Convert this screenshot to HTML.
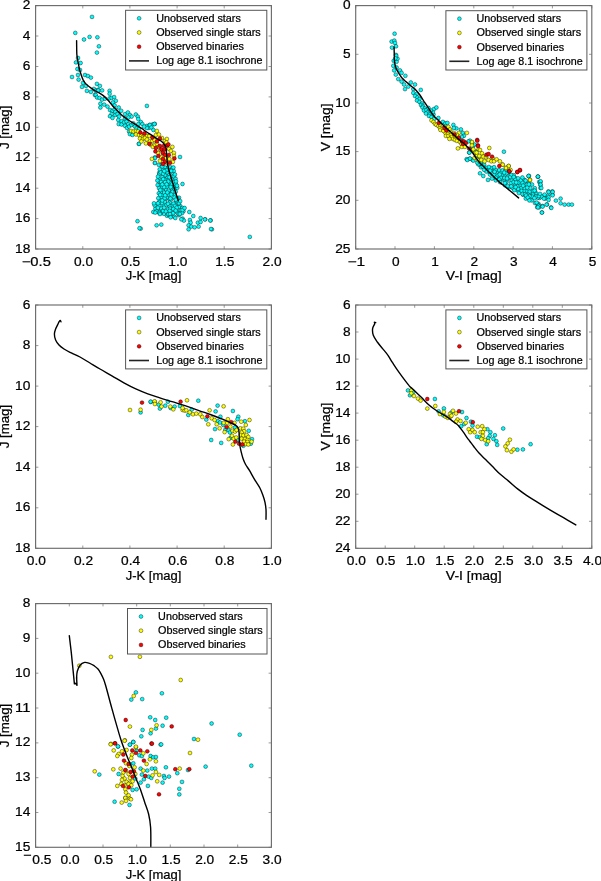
<!DOCTYPE html><html><head><meta charset="utf-8"><style>html,body{margin:0;padding:0;background:#fff;overflow:hidden}svg{display:block;will-change:transform}</style></head><body><svg width="601" height="881" viewBox="0 0 601 881" font-family='"Liberation Sans", sans-serif'><style>text{stroke:#000;stroke-width:0.22px}</style><defs><clipPath id="clip1"><rect x="35.6" y="5.6" width="235.8" height="243.4"/></clipPath><clipPath id="clip2"><rect x="355.7" y="5.6" width="236.1" height="243.4"/></clipPath><clipPath id="clip3"><rect x="35.6" y="305.0" width="235.8" height="243.3"/></clipPath><clipPath id="clip4"><rect x="355.7" y="305.0" width="236.1" height="243.3"/></clipPath><clipPath id="clip5"><rect x="35.6" y="603.6" width="235.8" height="243.7"/></clipPath></defs><rect width="601" height="881" fill="#fff"/><g stroke="#9a9a9a" stroke-width="1"><line x1="35.6" y1="249.0" x2="35.6" y2="246.2" /><line x1="35.6" y1="5.6" x2="35.6" y2="8.399999999999999" /><line x1="82.8" y1="249.0" x2="82.8" y2="246.2" /><line x1="82.8" y1="5.6" x2="82.8" y2="8.399999999999999" /><line x1="129.9" y1="249.0" x2="129.9" y2="246.2" /><line x1="129.9" y1="5.6" x2="129.9" y2="8.399999999999999" /><line x1="177.1" y1="249.0" x2="177.1" y2="246.2" /><line x1="177.1" y1="5.6" x2="177.1" y2="8.399999999999999" /><line x1="224.2" y1="249.0" x2="224.2" y2="246.2" /><line x1="224.2" y1="5.6" x2="224.2" y2="8.399999999999999" /><line x1="271.4" y1="249.0" x2="271.4" y2="246.2" /><line x1="271.4" y1="5.6" x2="271.4" y2="8.399999999999999" /><line x1="35.6" y1="5.6" x2="38.4" y2="5.6" /><line x1="271.4" y1="5.6" x2="268.59999999999997" y2="5.6" /><line x1="35.6" y1="36.0" x2="38.4" y2="36.0" /><line x1="271.4" y1="36.0" x2="268.59999999999997" y2="36.0" /><line x1="35.6" y1="66.5" x2="38.4" y2="66.5" /><line x1="271.4" y1="66.5" x2="268.59999999999997" y2="66.5" /><line x1="35.6" y1="96.9" x2="38.4" y2="96.9" /><line x1="271.4" y1="96.9" x2="268.59999999999997" y2="96.9" /><line x1="35.6" y1="127.3" x2="38.4" y2="127.3" /><line x1="271.4" y1="127.3" x2="268.59999999999997" y2="127.3" /><line x1="35.6" y1="157.7" x2="38.4" y2="157.7" /><line x1="271.4" y1="157.7" x2="268.59999999999997" y2="157.7" /><line x1="35.6" y1="188.2" x2="38.4" y2="188.2" /><line x1="271.4" y1="188.2" x2="268.59999999999997" y2="188.2" /><line x1="35.6" y1="218.6" x2="38.4" y2="218.6" /><line x1="271.4" y1="218.6" x2="268.59999999999997" y2="218.6" /><line x1="35.6" y1="249.0" x2="38.4" y2="249.0" /><line x1="271.4" y1="249.0" x2="268.59999999999997" y2="249.0" /></g><g clip-path="url(#clip1)"><g stroke="#000" stroke-opacity="0.75" stroke-width="0.55"><circle cx="92.0" cy="16.9" r="1.9" fill="#00ffff"/><circle cx="75.3" cy="32.9" r="1.9" fill="#00ffff"/><circle cx="84.0" cy="39.5" r="1.9" fill="#00ffff"/><circle cx="89.6" cy="36.9" r="1.9" fill="#00ffff"/><circle cx="97.4" cy="37.3" r="1.9" fill="#00ffff"/><circle cx="98.9" cy="46.3" r="1.9" fill="#00ffff"/><circle cx="78.0" cy="58.0" r="1.9" fill="#00ffff"/><circle cx="76.0" cy="62.4" r="1.9" fill="#00ffff"/><circle cx="80.6" cy="63.0" r="1.9" fill="#00ffff"/><circle cx="77.4" cy="69.0" r="1.9" fill="#00ffff"/><circle cx="80.0" cy="70.0" r="1.9" fill="#00ffff"/><circle cx="78.0" cy="75.0" r="1.9" fill="#00ffff"/><circle cx="72.0" cy="77.0" r="1.9" fill="#00ffff"/><circle cx="78.6" cy="79.6" r="1.9" fill="#00ffff"/><circle cx="85.0" cy="75.0" r="1.9" fill="#00ffff"/><circle cx="87.9" cy="76.0" r="1.9" fill="#00ffff"/><circle cx="90.9" cy="77.6" r="1.9" fill="#00ffff"/><circle cx="83.0" cy="82.9" r="1.9" fill="#00ffff"/><circle cx="82.0" cy="86.9" r="1.9" fill="#00ffff"/><circle cx="86.0" cy="85.9" r="1.9" fill="#00ffff"/><circle cx="86.9" cy="90.9" r="1.9" fill="#00ffff"/><circle cx="90.9" cy="91.9" r="1.9" fill="#00ffff"/><circle cx="93.9" cy="88.9" r="1.9" fill="#00ffff"/><circle cx="96.9" cy="83.9" r="1.9" fill="#00ffff"/><circle cx="99.9" cy="85.9" r="1.9" fill="#00ffff"/><circle cx="97.9" cy="89.9" r="1.9" fill="#00ffff"/><circle cx="94.9" cy="94.9" r="1.9" fill="#00ffff"/><circle cx="146.9" cy="125.9" r="1.9" fill="#00ffff"/><circle cx="149.8" cy="124.9" r="1.9" fill="#00ffff"/><circle cx="152.8" cy="124.3" r="1.9" fill="#00ffff"/><circle cx="154.8" cy="123.9" r="1.9" fill="#00ffff"/><circle cx="148.8" cy="127.9" r="1.9" fill="#00ffff"/><circle cx="138.9" cy="143.8" r="1.9" fill="#00ffff"/><circle cx="146.9" cy="105.9" r="1.9" fill="#00ffff"/><circle cx="96.9" cy="52.6" r="1.9" fill="#00ffff"/><circle cx="146.9" cy="128.0" r="1.9" fill="#00ffff"/><circle cx="149.9" cy="125.0" r="1.9" fill="#00ffff"/><circle cx="154.4" cy="124.0" r="1.9" fill="#00ffff"/><circle cx="151.4" cy="127.5" r="1.9" fill="#00ffff"/><circle cx="153.4" cy="130.0" r="1.9" fill="#00ffff"/><circle cx="139.0" cy="143.9" r="1.9" fill="#00ffff"/><circle cx="154.9" cy="157.4" r="1.9" fill="#00ffff"/><circle cx="154.9" cy="162.9" r="1.9" fill="#00ffff"/><circle cx="158.9" cy="164.9" r="1.9" fill="#00ffff"/><circle cx="178.5" cy="211.7" r="1.9" fill="#00ffff"/><circle cx="168.7" cy="184.6" r="1.9" fill="#00ffff"/><circle cx="167.9" cy="167.4" r="1.9" fill="#00ffff"/><circle cx="163.9" cy="205.4" r="1.9" fill="#00ffff"/><circle cx="155.4" cy="208.6" r="1.9" fill="#00ffff"/><circle cx="165.7" cy="179.2" r="1.9" fill="#00ffff"/><circle cx="170.2" cy="182.5" r="1.9" fill="#00ffff"/><circle cx="160.6" cy="184.5" r="1.9" fill="#00ffff"/><circle cx="171.5" cy="216.3" r="1.9" fill="#00ffff"/><circle cx="161.4" cy="197.3" r="1.9" fill="#00ffff"/><circle cx="164.9" cy="167.4" r="1.9" fill="#00ffff"/><circle cx="160.9" cy="208.3" r="1.9" fill="#00ffff"/><circle cx="170.3" cy="167.2" r="1.9" fill="#00ffff"/><circle cx="166.2" cy="189.7" r="1.9" fill="#00ffff"/><circle cx="169.5" cy="199.5" r="1.9" fill="#00ffff"/><circle cx="172.3" cy="205.6" r="1.9" fill="#00ffff"/><circle cx="161.8" cy="187.4" r="1.9" fill="#00ffff"/><circle cx="162.8" cy="190.9" r="1.9" fill="#00ffff"/><circle cx="171.8" cy="184.6" r="1.9" fill="#00ffff"/><circle cx="166.9" cy="215.7" r="1.9" fill="#00ffff"/><circle cx="163.9" cy="213.8" r="1.9" fill="#00ffff"/><circle cx="169.1" cy="215.2" r="1.9" fill="#00ffff"/><circle cx="171.1" cy="191.6" r="1.9" fill="#00ffff"/><circle cx="166.6" cy="197.6" r="1.9" fill="#00ffff"/><circle cx="169.4" cy="206.1" r="1.9" fill="#00ffff"/><circle cx="165.0" cy="199.7" r="1.9" fill="#00ffff"/><circle cx="177.0" cy="212.5" r="1.9" fill="#00ffff"/><circle cx="163.2" cy="170.0" r="1.9" fill="#00ffff"/><circle cx="172.8" cy="174.1" r="1.9" fill="#00ffff"/><circle cx="174.3" cy="182.1" r="1.9" fill="#00ffff"/><circle cx="157.6" cy="185.1" r="1.9" fill="#00ffff"/><circle cx="171.2" cy="199.6" r="1.9" fill="#00ffff"/><circle cx="162.0" cy="164.7" r="1.9" fill="#00ffff"/><circle cx="160.5" cy="200.5" r="1.9" fill="#00ffff"/><circle cx="160.9" cy="212.9" r="1.9" fill="#00ffff"/><circle cx="159.5" cy="179.5" r="1.9" fill="#00ffff"/><circle cx="178.8" cy="204.9" r="1.9" fill="#00ffff"/><circle cx="167.0" cy="186.5" r="1.9" fill="#00ffff"/><circle cx="159.3" cy="211.7" r="1.9" fill="#00ffff"/><circle cx="162.4" cy="194.8" r="1.9" fill="#00ffff"/><circle cx="172.0" cy="190.5" r="1.9" fill="#00ffff"/><circle cx="175.5" cy="178.6" r="1.9" fill="#00ffff"/><circle cx="168.6" cy="175.3" r="1.9" fill="#00ffff"/><circle cx="164.0" cy="192.6" r="1.9" fill="#00ffff"/><circle cx="167.3" cy="177.1" r="1.9" fill="#00ffff"/><circle cx="173.8" cy="176.1" r="1.9" fill="#00ffff"/><circle cx="162.2" cy="166.5" r="1.9" fill="#00ffff"/><circle cx="163.0" cy="211.0" r="1.9" fill="#00ffff"/><circle cx="174.2" cy="216.7" r="1.9" fill="#00ffff"/><circle cx="169.4" cy="194.9" r="1.9" fill="#00ffff"/><circle cx="174.1" cy="186.5" r="1.9" fill="#00ffff"/><circle cx="159.2" cy="172.8" r="1.9" fill="#00ffff"/><circle cx="158.9" cy="181.4" r="1.9" fill="#00ffff"/><circle cx="172.3" cy="168.5" r="1.9" fill="#00ffff"/><circle cx="168.7" cy="179.8" r="1.9" fill="#00ffff"/><circle cx="167.9" cy="209.1" r="1.9" fill="#00ffff"/><circle cx="176.0" cy="202.3" r="1.9" fill="#00ffff"/><circle cx="164.6" cy="198.2" r="1.9" fill="#00ffff"/><circle cx="164.6" cy="176.0" r="1.9" fill="#00ffff"/><circle cx="170.7" cy="187.0" r="1.9" fill="#00ffff"/><circle cx="169.7" cy="170.2" r="1.9" fill="#00ffff"/><circle cx="164.1" cy="207.6" r="1.9" fill="#00ffff"/><circle cx="161.1" cy="181.9" r="1.9" fill="#00ffff"/><circle cx="173.7" cy="170.9" r="1.9" fill="#00ffff"/><circle cx="164.9" cy="202.2" r="1.9" fill="#00ffff"/><circle cx="170.1" cy="208.6" r="1.9" fill="#00ffff"/><circle cx="162.5" cy="177.0" r="1.9" fill="#00ffff"/><circle cx="156.7" cy="205.4" r="1.9" fill="#00ffff"/><circle cx="158.3" cy="198.2" r="1.9" fill="#00ffff"/><circle cx="169.6" cy="202.6" r="1.9" fill="#00ffff"/><circle cx="159.1" cy="202.0" r="1.9" fill="#00ffff"/><circle cx="179.0" cy="197.7" r="1.9" fill="#00ffff"/><circle cx="165.1" cy="175.1" r="1.9" fill="#00ffff"/><circle cx="167.1" cy="172.3" r="1.9" fill="#00ffff"/><circle cx="174.7" cy="189.4" r="1.9" fill="#00ffff"/><circle cx="170.4" cy="198.5" r="1.9" fill="#00ffff"/><circle cx="166.5" cy="204.9" r="1.9" fill="#00ffff"/><circle cx="173.6" cy="203.6" r="1.9" fill="#00ffff"/><circle cx="177.3" cy="187.8" r="1.9" fill="#00ffff"/><circle cx="159.0" cy="188.1" r="1.9" fill="#00ffff"/><circle cx="156.6" cy="211.3" r="1.9" fill="#00ffff"/><circle cx="175.0" cy="205.9" r="1.9" fill="#00ffff"/><circle cx="160.6" cy="192.1" r="1.9" fill="#00ffff"/><circle cx="163.2" cy="179.2" r="1.9" fill="#00ffff"/><circle cx="159.2" cy="205.6" r="1.9" fill="#00ffff"/><circle cx="158.8" cy="193.3" r="1.9" fill="#00ffff"/><circle cx="180.2" cy="206.1" r="1.9" fill="#00ffff"/><circle cx="173.4" cy="167.5" r="1.9" fill="#00ffff"/><circle cx="159.4" cy="174.2" r="1.9" fill="#00ffff"/><circle cx="159.7" cy="169.4" r="1.9" fill="#00ffff"/><circle cx="175.8" cy="184.1" r="1.9" fill="#00ffff"/><circle cx="178.9" cy="207.2" r="1.9" fill="#00ffff"/><circle cx="171.6" cy="179.3" r="1.9" fill="#00ffff"/><circle cx="160.7" cy="172.4" r="1.9" fill="#00ffff"/><circle cx="183.5" cy="211.2" r="1.9" fill="#00ffff"/><circle cx="177.0" cy="185.7" r="1.9" fill="#00ffff"/><circle cx="180.9" cy="210.2" r="1.9" fill="#00ffff"/><circle cx="165.2" cy="195.3" r="1.9" fill="#00ffff"/><circle cx="172.6" cy="191.8" r="1.9" fill="#00ffff"/><circle cx="175.7" cy="191.7" r="1.9" fill="#00ffff"/><circle cx="168.0" cy="203.8" r="1.9" fill="#00ffff"/><circle cx="157.9" cy="207.7" r="1.9" fill="#00ffff"/><circle cx="177.0" cy="201.1" r="1.9" fill="#00ffff"/><circle cx="172.0" cy="211.2" r="1.9" fill="#00ffff"/><circle cx="166.4" cy="170.1" r="1.9" fill="#00ffff"/><circle cx="182.1" cy="213.1" r="1.9" fill="#00ffff"/><circle cx="174.9" cy="174.4" r="1.9" fill="#00ffff"/><circle cx="179.0" cy="203.2" r="1.9" fill="#00ffff"/><circle cx="168.2" cy="181.5" r="1.9" fill="#00ffff"/><circle cx="168.5" cy="190.7" r="1.9" fill="#00ffff"/><circle cx="160.3" cy="190.0" r="1.9" fill="#00ffff"/><circle cx="158.0" cy="176.6" r="1.9" fill="#00ffff"/><circle cx="169.6" cy="210.9" r="1.9" fill="#00ffff"/><circle cx="173.1" cy="213.2" r="1.9" fill="#00ffff"/><circle cx="165.9" cy="211.4" r="1.9" fill="#00ffff"/><circle cx="164.1" cy="187.1" r="1.9" fill="#00ffff"/><circle cx="174.7" cy="195.4" r="1.9" fill="#00ffff"/><circle cx="177.3" cy="198.4" r="1.9" fill="#00ffff"/><circle cx="180.2" cy="201.1" r="1.9" fill="#00ffff"/><circle cx="174.4" cy="197.5" r="1.9" fill="#00ffff"/><circle cx="176.0" cy="181.4" r="1.9" fill="#00ffff"/><circle cx="176.7" cy="207.7" r="1.9" fill="#00ffff"/><circle cx="163.2" cy="173.7" r="1.9" fill="#00ffff"/><circle cx="160.2" cy="194.9" r="1.9" fill="#00ffff"/><circle cx="182.5" cy="207.9" r="1.9" fill="#00ffff"/><circle cx="164.3" cy="171.1" r="1.9" fill="#00ffff"/><circle cx="168.2" cy="214.2" r="1.9" fill="#00ffff"/><circle cx="173.3" cy="208.9" r="1.9" fill="#00ffff"/><circle cx="162.0" cy="203.0" r="1.9" fill="#00ffff"/><circle cx="162.3" cy="184.4" r="1.9" fill="#00ffff"/><circle cx="165.2" cy="182.1" r="1.9" fill="#00ffff"/><circle cx="166.6" cy="184.3" r="1.9" fill="#00ffff"/><circle cx="178.8" cy="215.2" r="1.9" fill="#00ffff"/><circle cx="171.2" cy="170.9" r="1.9" fill="#00ffff"/><circle cx="175.8" cy="199.7" r="1.9" fill="#00ffff"/><circle cx="159.2" cy="212.8" r="1.9" fill="#00ffff"/><circle cx="175.7" cy="210.6" r="1.9" fill="#00ffff"/><circle cx="157.4" cy="180.5" r="1.9" fill="#00ffff"/><circle cx="170.0" cy="214.1" r="1.9" fill="#00ffff"/><circle cx="178.7" cy="214.0" r="1.9" fill="#00ffff"/><circle cx="162.2" cy="200.5" r="1.9" fill="#00ffff"/><circle cx="169.5" cy="177.2" r="1.9" fill="#00ffff"/><circle cx="167.3" cy="192.5" r="1.9" fill="#00ffff"/><circle cx="171.2" cy="194.5" r="1.9" fill="#00ffff"/><circle cx="180.0" cy="157.0" r="1.9" fill="#00ffff"/><circle cx="155.0" cy="163.0" r="1.9" fill="#00ffff"/><circle cx="155.0" cy="158.0" r="1.9" fill="#00ffff"/><circle cx="182.5" cy="184.0" r="1.9" fill="#00ffff"/><circle cx="170.6" cy="217.3" r="1.9" fill="#00ffff"/><circle cx="175.3" cy="218.0" r="1.9" fill="#00ffff"/><circle cx="160.0" cy="214.0" r="1.9" fill="#00ffff"/><circle cx="153.3" cy="212.0" r="1.9" fill="#00ffff"/><circle cx="155.3" cy="212.6" r="1.9" fill="#00ffff"/><circle cx="154.6" cy="205.3" r="1.9" fill="#00ffff"/><circle cx="154.0" cy="203.3" r="1.9" fill="#00ffff"/><circle cx="158.0" cy="203.3" r="1.9" fill="#00ffff"/><circle cx="179.9" cy="214.0" r="1.9" fill="#00ffff"/><circle cx="182.6" cy="210.0" r="1.9" fill="#00ffff"/><circle cx="184.6" cy="208.0" r="1.9" fill="#00ffff"/><circle cx="189.3" cy="212.0" r="1.9" fill="#00ffff"/><circle cx="193.3" cy="216.0" r="1.9" fill="#00ffff"/><circle cx="182.6" cy="218.6" r="1.9" fill="#00ffff"/><circle cx="183.9" cy="220.6" r="1.9" fill="#00ffff"/><circle cx="181.3" cy="219.3" r="1.9" fill="#00ffff"/><circle cx="189.9" cy="220.0" r="1.9" fill="#00ffff"/><circle cx="190.6" cy="222.6" r="1.9" fill="#00ffff"/><circle cx="188.6" cy="225.3" r="1.9" fill="#00ffff"/><circle cx="191.3" cy="226.6" r="1.9" fill="#00ffff"/><circle cx="194.6" cy="227.3" r="1.9" fill="#00ffff"/><circle cx="188.6" cy="229.3" r="1.9" fill="#00ffff"/><circle cx="198.6" cy="226.6" r="1.9" fill="#00ffff"/><circle cx="197.9" cy="222.6" r="1.9" fill="#00ffff"/><circle cx="200.6" cy="222.0" r="1.9" fill="#00ffff"/><circle cx="200.6" cy="218.0" r="1.9" fill="#00ffff"/><circle cx="205.2" cy="219.3" r="1.9" fill="#00ffff"/><circle cx="210.6" cy="220.4" r="1.9" fill="#00ffff"/><circle cx="211.9" cy="229.3" r="1.9" fill="#00ffff"/><circle cx="156.6" cy="225.3" r="1.9" fill="#00ffff"/><circle cx="161.3" cy="224.6" r="1.9" fill="#00ffff"/><circle cx="140.7" cy="228.6" r="1.9" fill="#00ffff"/><circle cx="137.5" cy="221.2" r="1.9" fill="#00ffff"/><circle cx="139.5" cy="228.2" r="1.9" fill="#00ffff"/><circle cx="249.8" cy="236.9" r="1.9" fill="#00ffff"/><circle cx="211.0" cy="229.0" r="1.9" fill="#00ffff"/><circle cx="210.3" cy="220.4" r="1.9" fill="#00ffff"/><circle cx="204.9" cy="219.4" r="1.9" fill="#00ffff"/><circle cx="95.8" cy="90.8" r="1.9" fill="#00ffff"/><circle cx="98.3" cy="90.4" r="1.9" fill="#00ffff"/><circle cx="102.1" cy="90.4" r="1.9" fill="#00ffff"/><circle cx="109.6" cy="90.8" r="1.9" fill="#00ffff"/><circle cx="109.6" cy="93.7" r="1.9" fill="#00ffff"/><circle cx="95.8" cy="95.0" r="1.9" fill="#00ffff"/><circle cx="97.1" cy="97.5" r="1.9" fill="#00ffff"/><circle cx="99.6" cy="97.9" r="1.9" fill="#00ffff"/><circle cx="102.1" cy="99.6" r="1.9" fill="#00ffff"/><circle cx="105.0" cy="98.7" r="1.9" fill="#00ffff"/><circle cx="109.6" cy="98.3" r="1.9" fill="#00ffff"/><circle cx="111.6" cy="97.9" r="1.9" fill="#00ffff"/><circle cx="114.1" cy="97.1" r="1.9" fill="#00ffff"/><circle cx="115.8" cy="100.8" r="1.9" fill="#00ffff"/><circle cx="112.9" cy="102.5" r="1.9" fill="#00ffff"/><circle cx="114.6" cy="105.4" r="1.9" fill="#00ffff"/><circle cx="100.4" cy="103.7" r="1.9" fill="#00ffff"/><circle cx="100.4" cy="107.5" r="1.9" fill="#00ffff"/><circle cx="104.2" cy="104.6" r="1.9" fill="#00ffff"/><circle cx="107.5" cy="106.6" r="1.9" fill="#00ffff"/><circle cx="110.0" cy="110.0" r="1.9" fill="#00ffff"/><circle cx="112.5" cy="110.8" r="1.9" fill="#00ffff"/><circle cx="114.6" cy="109.6" r="1.9" fill="#00ffff"/><circle cx="115.4" cy="112.0" r="1.9" fill="#00ffff"/><circle cx="118.7" cy="107.5" r="1.9" fill="#00ffff"/><circle cx="121.2" cy="110.8" r="1.9" fill="#00ffff"/><circle cx="111.6" cy="114.1" r="1.9" fill="#00ffff"/><circle cx="110.0" cy="116.2" r="1.9" fill="#00ffff"/><circle cx="112.5" cy="117.9" r="1.9" fill="#00ffff"/><circle cx="115.4" cy="115.0" r="1.9" fill="#00ffff"/><circle cx="117.5" cy="114.1" r="1.9" fill="#00ffff"/><circle cx="119.1" cy="116.6" r="1.9" fill="#00ffff"/><circle cx="118.3" cy="120.0" r="1.9" fill="#00ffff"/><circle cx="121.6" cy="121.2" r="1.9" fill="#00ffff"/><circle cx="118.7" cy="124.1" r="1.9" fill="#00ffff"/><circle cx="121.6" cy="124.5" r="1.9" fill="#00ffff"/><circle cx="125.0" cy="114.1" r="1.9" fill="#00ffff"/><circle cx="127.9" cy="112.5" r="1.9" fill="#00ffff"/><circle cx="129.9" cy="115.0" r="1.9" fill="#00ffff"/><circle cx="131.6" cy="116.6" r="1.9" fill="#00ffff"/><circle cx="128.3" cy="117.5" r="1.9" fill="#00ffff"/><circle cx="125.0" cy="118.3" r="1.9" fill="#00ffff"/><circle cx="124.1" cy="122.4" r="1.9" fill="#00ffff"/><circle cx="126.6" cy="121.6" r="1.9" fill="#00ffff"/><circle cx="128.3" cy="124.1" r="1.9" fill="#00ffff"/><circle cx="125.0" cy="125.8" r="1.9" fill="#00ffff"/><circle cx="127.0" cy="127.9" r="1.9" fill="#00ffff"/><circle cx="129.1" cy="126.6" r="1.9" fill="#00ffff"/><circle cx="131.6" cy="124.9" r="1.9" fill="#00ffff"/><circle cx="133.3" cy="123.3" r="1.9" fill="#00ffff"/><circle cx="135.8" cy="114.5" r="1.9" fill="#00ffff"/><circle cx="137.8" cy="116.6" r="1.9" fill="#00ffff"/><circle cx="138.3" cy="119.1" r="1.9" fill="#00ffff"/><circle cx="140.8" cy="122.0" r="1.9" fill="#00ffff"/><circle cx="142.4" cy="124.1" r="1.9" fill="#00ffff"/><circle cx="144.1" cy="126.6" r="1.9" fill="#00ffff"/><circle cx="134.9" cy="126.6" r="1.9" fill="#00ffff"/><circle cx="136.6" cy="128.3" r="1.9" fill="#00ffff"/><circle cx="139.1" cy="129.1" r="1.9" fill="#00ffff"/><circle cx="129.1" cy="131.6" r="1.9" fill="#00ffff"/><circle cx="129.9" cy="134.1" r="1.9" fill="#00ffff"/><circle cx="132.4" cy="134.9" r="1.9" fill="#00ffff"/><circle cx="138.3" cy="124.1" r="1.9" fill="#00ffff"/></g><g stroke="#000" stroke-opacity="0.75" stroke-width="0.55"><circle cx="131.0" cy="131.0" r="1.9" fill="#ffff00"/><circle cx="133.5" cy="131.5" r="1.9" fill="#ffff00"/><circle cx="136.0" cy="131.0" r="1.9" fill="#ffff00"/><circle cx="138.0" cy="131.5" r="1.9" fill="#ffff00"/><circle cx="136.0" cy="134.5" r="1.9" fill="#ffff00"/><circle cx="139.0" cy="135.0" r="1.9" fill="#ffff00"/><circle cx="141.4" cy="135.5" r="1.9" fill="#ffff00"/><circle cx="142.9" cy="137.0" r="1.9" fill="#ffff00"/><circle cx="144.9" cy="135.5" r="1.9" fill="#ffff00"/><circle cx="146.9" cy="136.0" r="1.9" fill="#ffff00"/><circle cx="149.4" cy="136.0" r="1.9" fill="#ffff00"/><circle cx="140.0" cy="138.5" r="1.9" fill="#ffff00"/><circle cx="142.9" cy="139.0" r="1.9" fill="#ffff00"/><circle cx="144.9" cy="138.0" r="1.9" fill="#ffff00"/><circle cx="146.9" cy="139.5" r="1.9" fill="#ffff00"/><circle cx="141.4" cy="141.4" r="1.9" fill="#ffff00"/><circle cx="145.9" cy="143.4" r="1.9" fill="#ffff00"/><circle cx="149.9" cy="141.4" r="1.9" fill="#ffff00"/><circle cx="152.4" cy="140.9" r="1.9" fill="#ffff00"/><circle cx="154.4" cy="140.0" r="1.9" fill="#ffff00"/><circle cx="155.9" cy="135.0" r="1.9" fill="#ffff00"/><circle cx="158.9" cy="134.5" r="1.9" fill="#ffff00"/><circle cx="156.9" cy="131.0" r="1.9" fill="#ffff00"/><circle cx="161.9" cy="138.0" r="1.9" fill="#ffff00"/><circle cx="164.9" cy="140.9" r="1.9" fill="#ffff00"/><circle cx="166.9" cy="139.0" r="1.9" fill="#ffff00"/><circle cx="166.4" cy="142.4" r="1.9" fill="#ffff00"/><circle cx="150.9" cy="144.9" r="1.9" fill="#ffff00"/><circle cx="152.9" cy="146.9" r="1.9" fill="#ffff00"/><circle cx="154.9" cy="144.9" r="1.9" fill="#ffff00"/><circle cx="156.9" cy="143.9" r="1.9" fill="#ffff00"/><circle cx="158.9" cy="146.9" r="1.9" fill="#ffff00"/><circle cx="160.4" cy="149.9" r="1.9" fill="#ffff00"/><circle cx="157.9" cy="152.9" r="1.9" fill="#ffff00"/><circle cx="160.9" cy="156.9" r="1.9" fill="#ffff00"/><circle cx="162.9" cy="152.9" r="1.9" fill="#ffff00"/><circle cx="151.9" cy="158.9" r="1.9" fill="#ffff00"/><circle cx="159.9" cy="160.9" r="1.9" fill="#ffff00"/><circle cx="168.9" cy="148.9" r="1.9" fill="#ffff00"/><circle cx="170.9" cy="150.9" r="1.9" fill="#ffff00"/><circle cx="172.4" cy="146.9" r="1.9" fill="#ffff00"/><circle cx="173.9" cy="152.9" r="1.9" fill="#ffff00"/><circle cx="169.4" cy="158.9" r="1.9" fill="#ffff00"/><circle cx="172.9" cy="161.9" r="1.9" fill="#ffff00"/><circle cx="173.9" cy="155.9" r="1.9" fill="#ffff00"/><circle cx="165.9" cy="157.9" r="1.9" fill="#ffff00"/><circle cx="166.9" cy="162.9" r="1.9" fill="#ffff00"/></g><g stroke="#000" stroke-opacity="0.75" stroke-width="0.55"><circle cx="140.4" cy="132.5" r="1.9" fill="#ff0000"/><circle cx="144.4" cy="133.5" r="1.9" fill="#ff0000"/><circle cx="152.4" cy="137.5" r="1.9" fill="#ff0000"/><circle cx="156.9" cy="141.4" r="1.9" fill="#ff0000"/><circle cx="159.9" cy="138.5" r="1.9" fill="#ff0000"/><circle cx="149.4" cy="143.9" r="1.9" fill="#ff0000"/><circle cx="155.9" cy="147.9" r="1.9" fill="#ff0000"/><circle cx="159.9" cy="145.9" r="1.9" fill="#ff0000"/><circle cx="161.4" cy="149.4" r="1.9" fill="#ff0000"/><circle cx="163.9" cy="145.9" r="1.9" fill="#ff0000"/><circle cx="155.4" cy="151.4" r="1.9" fill="#ff0000"/><circle cx="162.9" cy="152.9" r="1.9" fill="#ff0000"/><circle cx="164.9" cy="149.4" r="1.9" fill="#ff0000"/><circle cx="167.4" cy="145.4" r="1.9" fill="#ff0000"/><circle cx="168.4" cy="144.4" r="1.9" fill="#ff0000"/><circle cx="158.4" cy="155.9" r="1.9" fill="#ff0000"/><circle cx="164.9" cy="154.9" r="1.9" fill="#ff0000"/><circle cx="168.9" cy="154.9" r="1.9" fill="#ff0000"/><circle cx="162.9" cy="158.9" r="1.9" fill="#ff0000"/><circle cx="164.9" cy="161.9" r="1.9" fill="#ff0000"/><circle cx="162.9" cy="163.9" r="1.9" fill="#ff0000"/><circle cx="169.9" cy="162.9" r="1.9" fill="#ff0000"/><circle cx="174.4" cy="158.4" r="1.9" fill="#ff0000"/></g><path d="M76.6,40.6 C76.6,42.2 76.7,47.6 76.7,50.0 C76.8,52.4 76.7,53.0 76.9,55.0 C77.1,57.0 77.6,59.5 78.0,61.7 C78.4,63.9 78.8,66.2 79.3,68.3 C79.8,70.4 80.4,72.4 81.0,74.3 C81.6,76.2 82.2,78.0 83.0,79.6 C83.8,81.1 84.5,82.4 85.6,83.6 C86.7,84.8 88.1,85.9 89.6,87.0 C91.0,88.1 92.8,89.3 94.3,90.3 C95.8,91.2 97.2,91.8 98.7,92.7 C100.2,93.6 101.7,94.3 103.3,95.6 C104.9,96.9 106.8,98.8 108.3,100.5 C109.8,102.2 111.0,104.1 112.5,105.8 C114.0,107.5 115.8,109.1 117.5,110.8 C119.2,112.5 120.7,114.3 122.5,115.8 C124.3,117.3 126.2,118.6 128.3,120.0 C130.4,121.4 132.8,122.7 135.0,124.1 C137.2,125.5 139.8,127.1 141.6,128.3 C143.3,129.5 144.1,130.2 145.5,131.2 C146.9,132.2 148.6,133.3 150.0,134.2 C151.4,135.1 152.8,136.0 154.1,136.8 C155.4,137.7 156.8,138.6 158.0,139.3 C159.2,140.1 160.2,140.5 161.3,141.3 C162.4,142.1 163.5,143.1 164.3,144.3 C165.1,145.5 165.7,146.3 166.1,148.4 C166.5,150.5 166.5,154.1 166.8,156.8 C167.1,159.6 167.2,162.3 167.7,164.9 C168.1,167.5 168.8,169.5 169.5,172.2 C170.2,174.9 171.3,178.3 172.2,181.3 C173.1,184.3 174.0,187.4 174.9,190.3 C175.8,193.2 177.1,196.8 177.7,198.5 C178.2,200.2 178.1,200.2 178.2,200.5" fill="none" stroke="#000" stroke-width="1.4" stroke-linejoin="round" stroke-linecap="round"/></g><rect x="35.6" y="5.6" width="235.8" height="243.4" fill="none" stroke="#6c6c6c" stroke-width="1.15"/><g font-size="12.3" fill="#000"><text x="36.3" y="265.7" text-anchor="middle" textLength="29.1" lengthAdjust="spacingAndGlyphs">−0.5</text><text x="83.5" y="265.7" text-anchor="middle" textLength="19.1" lengthAdjust="spacingAndGlyphs">0.0</text><text x="130.6" y="265.7" text-anchor="middle" textLength="19.1" lengthAdjust="spacingAndGlyphs">0.5</text><text x="177.8" y="265.7" text-anchor="middle" textLength="19.1" lengthAdjust="spacingAndGlyphs">1.0</text><text x="224.9" y="265.7" text-anchor="middle" textLength="19.1" lengthAdjust="spacingAndGlyphs">1.5</text><text x="272.1" y="265.7" text-anchor="middle" textLength="19.1" lengthAdjust="spacingAndGlyphs">2.0</text><text x="30.4" y="9.1" text-anchor="end" textLength="7.6" lengthAdjust="spacingAndGlyphs">2</text><text x="30.4" y="39.5" text-anchor="end" textLength="7.6" lengthAdjust="spacingAndGlyphs">4</text><text x="30.4" y="70.0" text-anchor="end" textLength="7.6" lengthAdjust="spacingAndGlyphs">6</text><text x="30.4" y="100.4" text-anchor="end" textLength="7.6" lengthAdjust="spacingAndGlyphs">8</text><text x="30.4" y="130.8" text-anchor="end" textLength="15.3" lengthAdjust="spacingAndGlyphs">10</text><text x="30.4" y="161.2" text-anchor="end" textLength="15.3" lengthAdjust="spacingAndGlyphs">12</text><text x="30.4" y="191.7" text-anchor="end" textLength="15.3" lengthAdjust="spacingAndGlyphs">14</text><text x="30.4" y="222.1" text-anchor="end" textLength="15.3" lengthAdjust="spacingAndGlyphs">16</text><text x="30.4" y="252.5" text-anchor="end" textLength="15.3" lengthAdjust="spacingAndGlyphs">18</text></g><text x="153.5" y="280.3" text-anchor="middle" font-size="12.2" textLength="55.6" lengthAdjust="spacingAndGlyphs">J-K [mag]</text><text transform="translate(9.4,127.3) rotate(-90)" x="0" y="0" text-anchor="middle" font-size="12.2" textLength="43.4" lengthAdjust="spacingAndGlyphs">J [mag]</text><g stroke="#9a9a9a" stroke-width="1"><line x1="355.7" y1="249.0" x2="355.7" y2="246.2" /><line x1="355.7" y1="5.6" x2="355.7" y2="8.399999999999999" /><line x1="395.0" y1="249.0" x2="395.0" y2="246.2" /><line x1="395.0" y1="5.6" x2="395.0" y2="8.399999999999999" /><line x1="434.4" y1="249.0" x2="434.4" y2="246.2" /><line x1="434.4" y1="5.6" x2="434.4" y2="8.399999999999999" /><line x1="473.8" y1="249.0" x2="473.8" y2="246.2" /><line x1="473.8" y1="5.6" x2="473.8" y2="8.399999999999999" /><line x1="513.1" y1="249.0" x2="513.1" y2="246.2" /><line x1="513.1" y1="5.6" x2="513.1" y2="8.399999999999999" /><line x1="552.4" y1="249.0" x2="552.4" y2="246.2" /><line x1="552.4" y1="5.6" x2="552.4" y2="8.399999999999999" /><line x1="591.8" y1="249.0" x2="591.8" y2="246.2" /><line x1="591.8" y1="5.6" x2="591.8" y2="8.399999999999999" /><line x1="355.7" y1="5.6" x2="358.5" y2="5.6" /><line x1="591.8" y1="5.6" x2="589.0" y2="5.6" /><line x1="355.7" y1="54.3" x2="358.5" y2="54.3" /><line x1="591.8" y1="54.3" x2="589.0" y2="54.3" /><line x1="355.7" y1="103.0" x2="358.5" y2="103.0" /><line x1="591.8" y1="103.0" x2="589.0" y2="103.0" /><line x1="355.7" y1="151.6" x2="358.5" y2="151.6" /><line x1="591.8" y1="151.6" x2="589.0" y2="151.6" /><line x1="355.7" y1="200.3" x2="358.5" y2="200.3" /><line x1="591.8" y1="200.3" x2="589.0" y2="200.3" /><line x1="355.7" y1="249.0" x2="358.5" y2="249.0" /><line x1="591.8" y1="249.0" x2="589.0" y2="249.0" /></g><g clip-path="url(#clip2)"><g stroke="#000" stroke-opacity="0.75" stroke-width="0.55"><circle cx="394.6" cy="33.7" r="1.9" fill="#00ffff"/><circle cx="391.6" cy="41.6" r="1.9" fill="#00ffff"/><circle cx="394.3" cy="40.6" r="1.9" fill="#00ffff"/><circle cx="395.0" cy="43.0" r="1.9" fill="#00ffff"/><circle cx="396.0" cy="46.3" r="1.9" fill="#00ffff"/><circle cx="392.0" cy="47.6" r="1.9" fill="#00ffff"/><circle cx="395.9" cy="54.9" r="1.9" fill="#00ffff"/><circle cx="469.9" cy="140.6" r="1.9" fill="#00ffff"/><circle cx="471.9" cy="142.6" r="1.9" fill="#00ffff"/><circle cx="474.6" cy="144.6" r="1.9" fill="#00ffff"/><circle cx="472.6" cy="147.3" r="1.9" fill="#00ffff"/><circle cx="469.2" cy="152.6" r="1.9" fill="#00ffff"/><circle cx="466.6" cy="159.2" r="1.9" fill="#00ffff"/><circle cx="469.9" cy="158.6" r="1.9" fill="#00ffff"/><circle cx="472.6" cy="159.9" r="1.9" fill="#00ffff"/><circle cx="475.9" cy="151.3" r="1.9" fill="#00ffff"/><circle cx="478.6" cy="156.6" r="1.9" fill="#00ffff"/><circle cx="479.2" cy="164.6" r="1.9" fill="#00ffff"/><circle cx="400.0" cy="70.4" r="1.9" fill="#00ffff"/><circle cx="401.6" cy="72.9" r="1.9" fill="#00ffff"/><circle cx="405.4" cy="75.8" r="1.9" fill="#00ffff"/><circle cx="398.3" cy="79.1" r="1.9" fill="#00ffff"/><circle cx="401.6" cy="81.6" r="1.9" fill="#00ffff"/><circle cx="404.1" cy="84.5" r="1.9" fill="#00ffff"/><circle cx="405.0" cy="89.1" r="1.9" fill="#00ffff"/><circle cx="408.3" cy="86.6" r="1.9" fill="#00ffff"/><circle cx="410.8" cy="82.5" r="1.9" fill="#00ffff"/><circle cx="415.0" cy="84.5" r="1.9" fill="#00ffff"/><circle cx="413.3" cy="89.1" r="1.9" fill="#00ffff"/><circle cx="420.8" cy="89.9" r="1.9" fill="#00ffff"/><circle cx="413.3" cy="92.9" r="1.9" fill="#00ffff"/><circle cx="416.6" cy="94.1" r="1.9" fill="#00ffff"/><circle cx="393.7" cy="60.8" r="1.9" fill="#00ffff"/><circle cx="396.6" cy="61.7" r="1.9" fill="#00ffff"/><circle cx="393.3" cy="65.8" r="1.9" fill="#00ffff"/><circle cx="396.6" cy="67.5" r="1.9" fill="#00ffff"/><circle cx="394.2" cy="70.4" r="1.9" fill="#00ffff"/><circle cx="395.8" cy="74.6" r="1.9" fill="#00ffff"/><circle cx="397.5" cy="58.7" r="1.9" fill="#00ffff"/><circle cx="396.2" cy="55.8" r="1.9" fill="#00ffff"/><circle cx="395.4" cy="58.3" r="1.9" fill="#00ffff"/><circle cx="497.0" cy="178.1" r="1.9" fill="#00ffff"/><circle cx="502.7" cy="179.3" r="1.9" fill="#00ffff"/><circle cx="517.4" cy="179.8" r="1.9" fill="#00ffff"/><circle cx="524.4" cy="179.9" r="1.9" fill="#00ffff"/><circle cx="491.1" cy="171.7" r="1.9" fill="#00ffff"/><circle cx="486.2" cy="167.8" r="1.9" fill="#00ffff"/><circle cx="531.4" cy="198.5" r="1.9" fill="#00ffff"/><circle cx="528.2" cy="192.4" r="1.9" fill="#00ffff"/><circle cx="519.7" cy="185.7" r="1.9" fill="#00ffff"/><circle cx="531.6" cy="193.0" r="1.9" fill="#00ffff"/><circle cx="500.9" cy="177.7" r="1.9" fill="#00ffff"/><circle cx="539.6" cy="197.9" r="1.9" fill="#00ffff"/><circle cx="524.8" cy="182.1" r="1.9" fill="#00ffff"/><circle cx="504.7" cy="179.9" r="1.9" fill="#00ffff"/><circle cx="488.9" cy="171.8" r="1.9" fill="#00ffff"/><circle cx="488.0" cy="170.2" r="1.9" fill="#00ffff"/><circle cx="503.5" cy="175.0" r="1.9" fill="#00ffff"/><circle cx="513.7" cy="175.2" r="1.9" fill="#00ffff"/><circle cx="509.8" cy="187.1" r="1.9" fill="#00ffff"/><circle cx="505.3" cy="174.6" r="1.9" fill="#00ffff"/><circle cx="515.6" cy="178.2" r="1.9" fill="#00ffff"/><circle cx="486.3" cy="171.5" r="1.9" fill="#00ffff"/><circle cx="523.1" cy="194.8" r="1.9" fill="#00ffff"/><circle cx="537.8" cy="197.8" r="1.9" fill="#00ffff"/><circle cx="528.7" cy="183.1" r="1.9" fill="#00ffff"/><circle cx="525.6" cy="180.6" r="1.9" fill="#00ffff"/><circle cx="504.4" cy="177.9" r="1.9" fill="#00ffff"/><circle cx="521.4" cy="188.0" r="1.9" fill="#00ffff"/><circle cx="526.4" cy="191.2" r="1.9" fill="#00ffff"/><circle cx="533.1" cy="194.1" r="1.9" fill="#00ffff"/><circle cx="515.3" cy="179.5" r="1.9" fill="#00ffff"/><circle cx="482.1" cy="164.6" r="1.9" fill="#00ffff"/><circle cx="532.3" cy="196.7" r="1.9" fill="#00ffff"/><circle cx="524.0" cy="190.7" r="1.9" fill="#00ffff"/><circle cx="494.4" cy="174.7" r="1.9" fill="#00ffff"/><circle cx="521.3" cy="190.9" r="1.9" fill="#00ffff"/><circle cx="505.0" cy="185.3" r="1.9" fill="#00ffff"/><circle cx="480.6" cy="162.9" r="1.9" fill="#00ffff"/><circle cx="497.4" cy="171.5" r="1.9" fill="#00ffff"/><circle cx="518.5" cy="182.5" r="1.9" fill="#00ffff"/><circle cx="518.0" cy="190.7" r="1.9" fill="#00ffff"/><circle cx="532.0" cy="184.5" r="1.9" fill="#00ffff"/><circle cx="522.2" cy="182.5" r="1.9" fill="#00ffff"/><circle cx="544.2" cy="196.0" r="1.9" fill="#00ffff"/><circle cx="490.0" cy="174.6" r="1.9" fill="#00ffff"/><circle cx="481.0" cy="167.3" r="1.9" fill="#00ffff"/><circle cx="506.4" cy="182.0" r="1.9" fill="#00ffff"/><circle cx="500.9" cy="172.2" r="1.9" fill="#00ffff"/><circle cx="509.5" cy="175.0" r="1.9" fill="#00ffff"/><circle cx="531.7" cy="200.4" r="1.9" fill="#00ffff"/><circle cx="509.0" cy="172.2" r="1.9" fill="#00ffff"/><circle cx="497.4" cy="175.8" r="1.9" fill="#00ffff"/><circle cx="511.1" cy="174.9" r="1.9" fill="#00ffff"/><circle cx="514.9" cy="185.7" r="1.9" fill="#00ffff"/><circle cx="536.1" cy="193.3" r="1.9" fill="#00ffff"/><circle cx="524.8" cy="188.0" r="1.9" fill="#00ffff"/><circle cx="484.1" cy="164.6" r="1.9" fill="#00ffff"/><circle cx="525.8" cy="198.6" r="1.9" fill="#00ffff"/><circle cx="509.8" cy="177.4" r="1.9" fill="#00ffff"/><circle cx="502.4" cy="170.4" r="1.9" fill="#00ffff"/><circle cx="529.8" cy="191.5" r="1.9" fill="#00ffff"/><circle cx="536.1" cy="196.6" r="1.9" fill="#00ffff"/><circle cx="522.5" cy="194.0" r="1.9" fill="#00ffff"/><circle cx="482.8" cy="166.7" r="1.9" fill="#00ffff"/><circle cx="520.7" cy="180.2" r="1.9" fill="#00ffff"/><circle cx="541.6" cy="196.4" r="1.9" fill="#00ffff"/><circle cx="527.0" cy="184.7" r="1.9" fill="#00ffff"/><circle cx="511.7" cy="180.7" r="1.9" fill="#00ffff"/><circle cx="517.4" cy="186.3" r="1.9" fill="#00ffff"/><circle cx="512.5" cy="187.8" r="1.9" fill="#00ffff"/><circle cx="484.1" cy="169.8" r="1.9" fill="#00ffff"/><circle cx="534.8" cy="188.2" r="1.9" fill="#00ffff"/><circle cx="518.1" cy="188.9" r="1.9" fill="#00ffff"/><circle cx="505.8" cy="170.4" r="1.9" fill="#00ffff"/><circle cx="530.2" cy="188.1" r="1.9" fill="#00ffff"/><circle cx="527.2" cy="187.6" r="1.9" fill="#00ffff"/><circle cx="538.9" cy="196.1" r="1.9" fill="#00ffff"/><circle cx="518.1" cy="178.3" r="1.9" fill="#00ffff"/><circle cx="510.9" cy="183.1" r="1.9" fill="#00ffff"/><circle cx="493.8" cy="170.0" r="1.9" fill="#00ffff"/><circle cx="478.2" cy="164.2" r="1.9" fill="#00ffff"/><circle cx="495.8" cy="177.7" r="1.9" fill="#00ffff"/><circle cx="513.6" cy="182.1" r="1.9" fill="#00ffff"/><circle cx="491.1" cy="168.0" r="1.9" fill="#00ffff"/><circle cx="513.7" cy="177.0" r="1.9" fill="#00ffff"/><circle cx="535.0" cy="191.2" r="1.9" fill="#00ffff"/><circle cx="516.2" cy="182.5" r="1.9" fill="#00ffff"/><circle cx="533.0" cy="191.0" r="1.9" fill="#00ffff"/><circle cx="540.0" cy="193.9" r="1.9" fill="#00ffff"/><circle cx="499.0" cy="170.1" r="1.9" fill="#00ffff"/><circle cx="529.5" cy="196.2" r="1.9" fill="#00ffff"/><circle cx="528.9" cy="184.4" r="1.9" fill="#00ffff"/><circle cx="495.5" cy="169.9" r="1.9" fill="#00ffff"/><circle cx="477.2" cy="162.5" r="1.9" fill="#00ffff"/><circle cx="499.3" cy="179.5" r="1.9" fill="#00ffff"/><circle cx="504.9" cy="183.1" r="1.9" fill="#00ffff"/><circle cx="507.6" cy="186.2" r="1.9" fill="#00ffff"/><circle cx="507.6" cy="179.3" r="1.9" fill="#00ffff"/><circle cx="499.7" cy="174.5" r="1.9" fill="#00ffff"/><circle cx="494.1" cy="167.2" r="1.9" fill="#00ffff"/><circle cx="525.1" cy="194.1" r="1.9" fill="#00ffff"/><circle cx="518.9" cy="193.1" r="1.9" fill="#00ffff"/><circle cx="514.3" cy="190.2" r="1.9" fill="#00ffff"/><circle cx="500.1" cy="182.1" r="1.9" fill="#00ffff"/><circle cx="494.6" cy="171.8" r="1.9" fill="#00ffff"/><circle cx="495.8" cy="180.4" r="1.9" fill="#00ffff"/><circle cx="507.0" cy="178.4" r="1.9" fill="#00ffff"/><circle cx="506.5" cy="173.2" r="1.9" fill="#00ffff"/><circle cx="504.2" cy="172.6" r="1.9" fill="#00ffff"/><circle cx="488.9" cy="167.0" r="1.9" fill="#00ffff"/><circle cx="526.1" cy="195.5" r="1.9" fill="#00ffff"/><circle cx="527.8" cy="197.6" r="1.9" fill="#00ffff"/><circle cx="522.4" cy="177.5" r="1.9" fill="#00ffff"/><circle cx="490.1" cy="170.7" r="1.9" fill="#00ffff"/><circle cx="534.4" cy="198.1" r="1.9" fill="#00ffff"/><circle cx="547.9" cy="195.8" r="1.9" fill="#00ffff"/><circle cx="515.6" cy="187.1" r="1.9" fill="#00ffff"/><circle cx="523.1" cy="185.7" r="1.9" fill="#00ffff"/><circle cx="511.2" cy="186.3" r="1.9" fill="#00ffff"/><circle cx="545.3" cy="198.6" r="1.9" fill="#00ffff"/><circle cx="467.3" cy="160.0" r="1.9" fill="#00ffff"/><circle cx="470.0" cy="158.6" r="1.9" fill="#00ffff"/><circle cx="473.3" cy="160.6" r="1.9" fill="#00ffff"/><circle cx="469.3" cy="152.6" r="1.9" fill="#00ffff"/><circle cx="480.0" cy="173.3" r="1.9" fill="#00ffff"/><circle cx="483.3" cy="176.0" r="1.9" fill="#00ffff"/><circle cx="488.0" cy="179.9" r="1.9" fill="#00ffff"/><circle cx="492.0" cy="178.6" r="1.9" fill="#00ffff"/><circle cx="503.9" cy="151.7" r="1.9" fill="#00ffff"/><circle cx="528.6" cy="176.0" r="1.9" fill="#00ffff"/><circle cx="537.9" cy="176.6" r="1.9" fill="#00ffff"/><circle cx="539.2" cy="181.9" r="1.9" fill="#00ffff"/><circle cx="534.6" cy="190.6" r="1.9" fill="#00ffff"/><circle cx="538.6" cy="203.9" r="1.9" fill="#00ffff"/><circle cx="537.2" cy="207.2" r="1.9" fill="#00ffff"/><circle cx="529.0" cy="176.0" r="1.9" fill="#00ffff"/><circle cx="538.0" cy="176.8" r="1.9" fill="#00ffff"/><circle cx="540.4" cy="182.0" r="1.9" fill="#00ffff"/><circle cx="540.4" cy="185.0" r="1.9" fill="#00ffff"/><circle cx="540.4" cy="188.0" r="1.9" fill="#00ffff"/><circle cx="548.4" cy="191.4" r="1.9" fill="#00ffff"/><circle cx="552.4" cy="191.4" r="1.9" fill="#00ffff"/><circle cx="552.4" cy="194.4" r="1.9" fill="#00ffff"/><circle cx="535.0" cy="203.0" r="1.9" fill="#00ffff"/><circle cx="538.0" cy="205.0" r="1.9" fill="#00ffff"/><circle cx="539.0" cy="207.4" r="1.9" fill="#00ffff"/><circle cx="542.4" cy="206.0" r="1.9" fill="#00ffff"/><circle cx="547.0" cy="204.4" r="1.9" fill="#00ffff"/><circle cx="551.0" cy="207.4" r="1.9" fill="#00ffff"/><circle cx="542.0" cy="212.4" r="1.9" fill="#00ffff"/><circle cx="529.4" cy="200.4" r="1.9" fill="#00ffff"/><circle cx="528.6" cy="176.0" r="1.9" fill="#00ffff"/><circle cx="537.9" cy="176.6" r="1.9" fill="#00ffff"/><circle cx="540.6" cy="181.3" r="1.9" fill="#00ffff"/><circle cx="540.6" cy="184.6" r="1.9" fill="#00ffff"/><circle cx="541.3" cy="188.0" r="1.9" fill="#00ffff"/><circle cx="548.6" cy="192.0" r="1.9" fill="#00ffff"/><circle cx="552.6" cy="192.0" r="1.9" fill="#00ffff"/><circle cx="552.6" cy="195.3" r="1.9" fill="#00ffff"/><circle cx="544.6" cy="194.6" r="1.9" fill="#00ffff"/><circle cx="548.6" cy="197.3" r="1.9" fill="#00ffff"/><circle cx="548.6" cy="199.9" r="1.9" fill="#00ffff"/><circle cx="543.9" cy="198.6" r="1.9" fill="#00ffff"/><circle cx="536.6" cy="202.6" r="1.9" fill="#00ffff"/><circle cx="538.6" cy="205.9" r="1.9" fill="#00ffff"/><circle cx="542.6" cy="206.6" r="1.9" fill="#00ffff"/><circle cx="537.9" cy="207.3" r="1.9" fill="#00ffff"/><circle cx="546.6" cy="204.6" r="1.9" fill="#00ffff"/><circle cx="551.3" cy="207.9" r="1.9" fill="#00ffff"/><circle cx="541.9" cy="212.6" r="1.9" fill="#00ffff"/><circle cx="555.9" cy="200.6" r="1.9" fill="#00ffff"/><circle cx="560.6" cy="198.6" r="1.9" fill="#00ffff"/><circle cx="560.6" cy="203.3" r="1.9" fill="#00ffff"/><circle cx="564.6" cy="204.6" r="1.9" fill="#00ffff"/><circle cx="568.6" cy="204.6" r="1.9" fill="#00ffff"/><circle cx="571.9" cy="204.6" r="1.9" fill="#00ffff"/><circle cx="415.0" cy="96.0" r="1.9" fill="#00ffff"/><circle cx="417.5" cy="97.5" r="1.9" fill="#00ffff"/><circle cx="419.5" cy="99.0" r="1.9" fill="#00ffff"/><circle cx="417.0" cy="100.5" r="1.9" fill="#00ffff"/><circle cx="419.5" cy="102.0" r="1.9" fill="#00ffff"/><circle cx="422.0" cy="103.5" r="1.9" fill="#00ffff"/><circle cx="421.0" cy="105.0" r="1.9" fill="#00ffff"/><circle cx="423.0" cy="106.0" r="1.9" fill="#00ffff"/><circle cx="422.5" cy="107.5" r="1.9" fill="#00ffff"/><circle cx="425.0" cy="108.5" r="1.9" fill="#00ffff"/><circle cx="424.0" cy="110.5" r="1.9" fill="#00ffff"/><circle cx="426.5" cy="110.0" r="1.9" fill="#00ffff"/><circle cx="428.5" cy="108.0" r="1.9" fill="#00ffff"/><circle cx="427.5" cy="112.5" r="1.9" fill="#00ffff"/><circle cx="426.0" cy="113.5" r="1.9" fill="#00ffff"/><circle cx="429.5" cy="114.5" r="1.9" fill="#00ffff"/><circle cx="429.0" cy="116.0" r="1.9" fill="#00ffff"/><circle cx="431.5" cy="117.0" r="1.9" fill="#00ffff"/><circle cx="433.5" cy="114.5" r="1.9" fill="#00ffff"/><circle cx="433.0" cy="112.0" r="1.9" fill="#00ffff"/><circle cx="431.0" cy="110.5" r="1.9" fill="#00ffff"/><circle cx="434.0" cy="109.0" r="1.9" fill="#00ffff"/><circle cx="436.4" cy="107.5" r="1.9" fill="#00ffff"/><circle cx="438.4" cy="118.0" r="1.9" fill="#00ffff"/><circle cx="434.0" cy="119.0" r="1.9" fill="#00ffff"/><circle cx="442.9" cy="121.9" r="1.9" fill="#00ffff"/><circle cx="445.4" cy="123.4" r="1.9" fill="#00ffff"/><circle cx="447.4" cy="122.9" r="1.9" fill="#00ffff"/><circle cx="453.4" cy="124.9" r="1.9" fill="#00ffff"/><circle cx="456.4" cy="128.4" r="1.9" fill="#00ffff"/><circle cx="453.9" cy="127.9" r="1.9" fill="#00ffff"/><circle cx="460.9" cy="129.4" r="1.9" fill="#00ffff"/><circle cx="462.9" cy="132.9" r="1.9" fill="#00ffff"/><circle cx="463.9" cy="135.9" r="1.9" fill="#00ffff"/><circle cx="461.9" cy="136.9" r="1.9" fill="#00ffff"/><circle cx="468.4" cy="141.4" r="1.9" fill="#00ffff"/></g><g stroke="#000" stroke-opacity="0.75" stroke-width="0.55"><circle cx="471.9" cy="145.3" r="1.9" fill="#ffff00"/><circle cx="472.6" cy="150.6" r="1.9" fill="#ffff00"/><circle cx="475.2" cy="152.6" r="1.9" fill="#ffff00"/><circle cx="477.2" cy="155.2" r="1.9" fill="#ffff00"/><circle cx="478.6" cy="149.3" r="1.9" fill="#ffff00"/><circle cx="474.6" cy="157.9" r="1.9" fill="#ffff00"/><circle cx="478.6" cy="160.6" r="1.9" fill="#ffff00"/><circle cx="472.0" cy="142.0" r="1.9" fill="#ffff00"/><circle cx="473.3" cy="149.3" r="1.9" fill="#ffff00"/><circle cx="476.6" cy="152.6" r="1.9" fill="#ffff00"/><circle cx="480.0" cy="150.0" r="1.9" fill="#ffff00"/><circle cx="482.0" cy="153.3" r="1.9" fill="#ffff00"/><circle cx="479.3" cy="156.0" r="1.9" fill="#ffff00"/><circle cx="483.3" cy="156.6" r="1.9" fill="#ffff00"/><circle cx="486.0" cy="157.3" r="1.9" fill="#ffff00"/><circle cx="481.3" cy="160.0" r="1.9" fill="#ffff00"/><circle cx="484.6" cy="161.3" r="1.9" fill="#ffff00"/><circle cx="489.3" cy="148.0" r="1.9" fill="#ffff00"/><circle cx="488.6" cy="160.0" r="1.9" fill="#ffff00"/><circle cx="492.6" cy="158.0" r="1.9" fill="#ffff00"/><circle cx="491.3" cy="161.3" r="1.9" fill="#ffff00"/><circle cx="494.0" cy="161.3" r="1.9" fill="#ffff00"/><circle cx="496.6" cy="159.3" r="1.9" fill="#ffff00"/><circle cx="499.9" cy="161.3" r="1.9" fill="#ffff00"/><circle cx="502.6" cy="164.6" r="1.9" fill="#ffff00"/><circle cx="505.9" cy="168.0" r="1.9" fill="#ffff00"/><circle cx="508.6" cy="166.0" r="1.9" fill="#ffff00"/><circle cx="510.6" cy="170.0" r="1.9" fill="#ffff00"/><circle cx="529.9" cy="179.9" r="1.9" fill="#ffff00"/><circle cx="486.6" cy="155.3" r="1.9" fill="#ffff00"/><circle cx="502.7" cy="164.7" r="1.9" fill="#ffff00"/><circle cx="508.7" cy="166.0" r="1.9" fill="#ffff00"/><circle cx="506.0" cy="168.0" r="1.9" fill="#ffff00"/><circle cx="530.0" cy="180.0" r="1.9" fill="#ffff00"/><circle cx="431.5" cy="120.4" r="1.9" fill="#ffff00"/><circle cx="433.5" cy="121.9" r="1.9" fill="#ffff00"/><circle cx="435.0" cy="123.9" r="1.9" fill="#ffff00"/><circle cx="436.4" cy="124.9" r="1.9" fill="#ffff00"/><circle cx="438.4" cy="125.9" r="1.9" fill="#ffff00"/><circle cx="439.9" cy="127.9" r="1.9" fill="#ffff00"/><circle cx="440.4" cy="129.9" r="1.9" fill="#ffff00"/><circle cx="442.9" cy="128.4" r="1.9" fill="#ffff00"/><circle cx="444.9" cy="126.9" r="1.9" fill="#ffff00"/><circle cx="448.4" cy="126.9" r="1.9" fill="#ffff00"/><circle cx="449.9" cy="129.4" r="1.9" fill="#ffff00"/><circle cx="445.4" cy="132.9" r="1.9" fill="#ffff00"/><circle cx="447.9" cy="133.9" r="1.9" fill="#ffff00"/><circle cx="445.9" cy="135.9" r="1.9" fill="#ffff00"/><circle cx="448.4" cy="135.9" r="1.9" fill="#ffff00"/><circle cx="450.9" cy="134.9" r="1.9" fill="#ffff00"/><circle cx="451.9" cy="136.9" r="1.9" fill="#ffff00"/><circle cx="453.9" cy="132.9" r="1.9" fill="#ffff00"/><circle cx="452.9" cy="138.9" r="1.9" fill="#ffff00"/><circle cx="454.9" cy="139.9" r="1.9" fill="#ffff00"/><circle cx="456.9" cy="140.9" r="1.9" fill="#ffff00"/><circle cx="457.9" cy="136.9" r="1.9" fill="#ffff00"/><circle cx="458.9" cy="132.9" r="1.9" fill="#ffff00"/><circle cx="459.9" cy="141.9" r="1.9" fill="#ffff00"/><circle cx="461.4" cy="143.9" r="1.9" fill="#ffff00"/><circle cx="457.9" cy="148.4" r="1.9" fill="#ffff00"/><circle cx="461.9" cy="146.9" r="1.9" fill="#ffff00"/><circle cx="464.9" cy="146.9" r="1.9" fill="#ffff00"/><circle cx="466.9" cy="132.9" r="1.9" fill="#ffff00"/><circle cx="456.9" cy="134.9" r="1.9" fill="#ffff00"/><circle cx="443.4" cy="130.9" r="1.9" fill="#ffff00"/><circle cx="439.9" cy="124.4" r="1.9" fill="#ffff00"/><circle cx="450.9" cy="131.9" r="1.9" fill="#ffff00"/><circle cx="454.9" cy="135.9" r="1.9" fill="#ffff00"/><circle cx="449.4" cy="138.9" r="1.9" fill="#ffff00"/></g><g stroke="#000" stroke-opacity="0.75" stroke-width="0.55"><circle cx="469.2" cy="148.6" r="1.9" fill="#ff0000"/><circle cx="477.2" cy="139.9" r="1.9" fill="#ff0000"/><circle cx="477.9" cy="145.3" r="1.9" fill="#ff0000"/><circle cx="477.3" cy="140.7" r="1.9" fill="#ff0000"/><circle cx="478.0" cy="146.0" r="1.9" fill="#ff0000"/><circle cx="486.6" cy="154.6" r="1.9" fill="#ff0000"/><circle cx="488.6" cy="154.0" r="1.9" fill="#ff0000"/><circle cx="492.0" cy="156.6" r="1.9" fill="#ff0000"/><circle cx="499.3" cy="166.0" r="1.9" fill="#ff0000"/><circle cx="509.3" cy="171.3" r="1.9" fill="#ff0000"/><circle cx="517.3" cy="172.0" r="1.9" fill="#ff0000"/><circle cx="519.9" cy="170.4" r="1.9" fill="#ff0000"/><circle cx="509.3" cy="171.3" r="1.9" fill="#ff0000"/><circle cx="517.3" cy="172.0" r="1.9" fill="#ff0000"/><circle cx="520.0" cy="170.0" r="1.9" fill="#ff0000"/><circle cx="438.9" cy="122.9" r="1.9" fill="#ff0000"/><circle cx="444.4" cy="127.9" r="1.9" fill="#ff0000"/><circle cx="446.4" cy="130.4" r="1.9" fill="#ff0000"/><circle cx="454.4" cy="134.4" r="1.9" fill="#ff0000"/><circle cx="458.9" cy="137.9" r="1.9" fill="#ff0000"/><circle cx="461.9" cy="140.9" r="1.9" fill="#ff0000"/><circle cx="463.9" cy="141.4" r="1.9" fill="#ff0000"/><circle cx="465.9" cy="142.9" r="1.9" fill="#ff0000"/><circle cx="462.9" cy="143.9" r="1.9" fill="#ff0000"/></g><path d="M394.1,47.0 C394.1,48.3 394.2,52.5 394.3,55.0 C394.4,57.5 394.2,59.6 394.5,61.7 C394.8,63.8 395.2,65.7 395.8,67.5 C396.4,69.3 397.3,70.8 398.3,72.5 C399.3,74.2 400.4,76.0 401.6,77.5 C402.9,79.0 404.3,80.2 405.8,81.6 C407.3,83.0 409.1,84.4 410.8,85.8 C412.5,87.2 414.3,88.5 415.8,90.0 C417.3,91.5 418.5,93.1 419.9,95.0 C421.3,96.9 422.8,99.5 424.1,101.6 C425.5,103.6 426.5,105.0 428.0,107.3 C429.5,109.6 431.3,112.8 433.3,115.3 C435.3,117.8 437.8,119.8 440.0,122.0 C442.2,124.2 444.9,127.0 446.6,128.6 C448.4,130.2 448.9,130.4 450.5,131.8 C452.1,133.2 454.1,135.3 456.0,137.0 C457.9,138.7 460.3,140.6 462.0,142.0 C463.7,143.4 464.8,144.4 466.0,145.5 C467.2,146.6 468.1,147.6 469.0,148.5 C469.9,149.4 470.8,150.3 471.5,151.2 C472.2,152.1 472.8,152.9 473.5,154.0 C474.2,155.1 474.9,156.5 476.0,158.0 C477.1,159.5 478.3,161.2 480.0,163.0 C481.7,164.8 483.8,166.8 486.0,169.0 C488.2,171.2 490.7,173.7 493.0,176.0 C495.3,178.3 497.7,180.6 500.0,182.6 C502.3,184.6 503.5,185.3 506.6,187.9 C509.7,190.5 516.6,196.2 518.6,197.9" fill="none" stroke="#000" stroke-width="1.4" stroke-linejoin="round" stroke-linecap="round"/></g><rect x="355.7" y="5.6" width="236.1" height="243.4" fill="none" stroke="#6c6c6c" stroke-width="1.15"/><g font-size="12.3" fill="#000"><text x="356.4" y="265.7" text-anchor="middle" textLength="17.7" lengthAdjust="spacingAndGlyphs">−1</text><text x="395.7" y="265.7" text-anchor="middle" textLength="7.6" lengthAdjust="spacingAndGlyphs">0</text><text x="435.1" y="265.7" text-anchor="middle" textLength="7.6" lengthAdjust="spacingAndGlyphs">1</text><text x="474.4" y="265.7" text-anchor="middle" textLength="7.6" lengthAdjust="spacingAndGlyphs">2</text><text x="513.8" y="265.7" text-anchor="middle" textLength="7.6" lengthAdjust="spacingAndGlyphs">3</text><text x="553.1" y="265.7" text-anchor="middle" textLength="7.6" lengthAdjust="spacingAndGlyphs">4</text><text x="592.5" y="265.7" text-anchor="middle" textLength="7.6" lengthAdjust="spacingAndGlyphs">5</text><text x="350.5" y="9.1" text-anchor="end" textLength="7.6" lengthAdjust="spacingAndGlyphs">0</text><text x="350.5" y="57.8" text-anchor="end" textLength="7.6" lengthAdjust="spacingAndGlyphs">5</text><text x="350.5" y="106.5" text-anchor="end" textLength="15.3" lengthAdjust="spacingAndGlyphs">10</text><text x="350.5" y="155.1" text-anchor="end" textLength="15.3" lengthAdjust="spacingAndGlyphs">15</text><text x="350.5" y="203.8" text-anchor="end" textLength="15.3" lengthAdjust="spacingAndGlyphs">20</text><text x="350.5" y="252.5" text-anchor="end" textLength="15.3" lengthAdjust="spacingAndGlyphs">25</text></g><text x="473.8" y="280.3" text-anchor="middle" font-size="12.2" textLength="55.9" lengthAdjust="spacingAndGlyphs">V-I [mag]</text><text transform="translate(329.5,127.3) rotate(-90)" x="0" y="0" text-anchor="middle" font-size="12.2" textLength="48.0" lengthAdjust="spacingAndGlyphs">V [mag]</text><g stroke="#9a9a9a" stroke-width="1"><line x1="35.6" y1="548.3" x2="35.6" y2="545.5" /><line x1="35.6" y1="305.0" x2="35.6" y2="307.8" /><line x1="82.8" y1="548.3" x2="82.8" y2="545.5" /><line x1="82.8" y1="305.0" x2="82.8" y2="307.8" /><line x1="129.9" y1="548.3" x2="129.9" y2="545.5" /><line x1="129.9" y1="305.0" x2="129.9" y2="307.8" /><line x1="177.1" y1="548.3" x2="177.1" y2="545.5" /><line x1="177.1" y1="305.0" x2="177.1" y2="307.8" /><line x1="224.2" y1="548.3" x2="224.2" y2="545.5" /><line x1="224.2" y1="305.0" x2="224.2" y2="307.8" /><line x1="271.4" y1="548.3" x2="271.4" y2="545.5" /><line x1="271.4" y1="305.0" x2="271.4" y2="307.8" /><line x1="35.6" y1="305.0" x2="38.4" y2="305.0" /><line x1="271.4" y1="305.0" x2="268.59999999999997" y2="305.0" /><line x1="35.6" y1="345.6" x2="38.4" y2="345.6" /><line x1="271.4" y1="345.6" x2="268.59999999999997" y2="345.6" /><line x1="35.6" y1="386.1" x2="38.4" y2="386.1" /><line x1="271.4" y1="386.1" x2="268.59999999999997" y2="386.1" /><line x1="35.6" y1="426.6" x2="38.4" y2="426.6" /><line x1="271.4" y1="426.6" x2="268.59999999999997" y2="426.6" /><line x1="35.6" y1="467.2" x2="38.4" y2="467.2" /><line x1="271.4" y1="467.2" x2="268.59999999999997" y2="467.2" /><line x1="35.6" y1="507.8" x2="38.4" y2="507.8" /><line x1="271.4" y1="507.8" x2="268.59999999999997" y2="507.8" /><line x1="35.6" y1="548.3" x2="38.4" y2="548.3" /><line x1="271.4" y1="548.3" x2="268.59999999999997" y2="548.3" /></g><g clip-path="url(#clip3)"><g stroke="#000" stroke-opacity="0.75" stroke-width="0.55"><circle cx="150.8" cy="401.9" r="1.9" fill="#00ffff"/><circle cx="150.6" cy="401.7" r="1.9" fill="#00ffff"/><circle cx="140.6" cy="412.4" r="1.9" fill="#00ffff"/><circle cx="158.6" cy="404.6" r="1.9" fill="#00ffff"/><circle cx="159.9" cy="408.6" r="1.9" fill="#00ffff"/><circle cx="165.3" cy="405.7" r="1.9" fill="#00ffff"/><circle cx="167.9" cy="401.7" r="1.9" fill="#00ffff"/><circle cx="174.6" cy="406.6" r="1.9" fill="#00ffff"/><circle cx="170.6" cy="408.0" r="1.9" fill="#00ffff"/><circle cx="179.9" cy="406.0" r="1.9" fill="#00ffff"/><circle cx="198.3" cy="400.7" r="1.9" fill="#00ffff"/><circle cx="217.6" cy="405.6" r="1.9" fill="#00ffff"/><circle cx="215.6" cy="411.4" r="1.9" fill="#00ffff"/><circle cx="232.9" cy="411.0" r="1.9" fill="#00ffff"/><circle cx="188.3" cy="415.0" r="1.9" fill="#00ffff"/><circle cx="191.7" cy="409.6" r="1.9" fill="#00ffff"/><circle cx="206.3" cy="419.6" r="1.9" fill="#00ffff"/><circle cx="220.4" cy="416.7" r="1.9" fill="#00ffff"/><circle cx="217.9" cy="421.2" r="1.9" fill="#00ffff"/><circle cx="220.0" cy="422.5" r="1.9" fill="#00ffff"/><circle cx="223.3" cy="425.0" r="1.9" fill="#00ffff"/><circle cx="215.0" cy="429.1" r="1.9" fill="#00ffff"/><circle cx="225.4" cy="429.6" r="1.9" fill="#00ffff"/><circle cx="228.7" cy="430.4" r="1.9" fill="#00ffff"/><circle cx="230.0" cy="432.5" r="1.9" fill="#00ffff"/><circle cx="235.0" cy="427.5" r="1.9" fill="#00ffff"/><circle cx="238.3" cy="416.7" r="1.9" fill="#00ffff"/><circle cx="237.5" cy="419.2" r="1.9" fill="#00ffff"/><circle cx="244.9" cy="421.2" r="1.9" fill="#00ffff"/><circle cx="248.7" cy="430.8" r="1.9" fill="#00ffff"/><circle cx="252.0" cy="439.1" r="1.9" fill="#00ffff"/><circle cx="250.8" cy="443.7" r="1.9" fill="#00ffff"/><circle cx="243.3" cy="445.8" r="1.9" fill="#00ffff"/><circle cx="211.2" cy="440.0" r="1.9" fill="#00ffff"/><circle cx="221.2" cy="442.9" r="1.9" fill="#00ffff"/><circle cx="237.5" cy="440.0" r="1.9" fill="#00ffff"/><circle cx="230.4" cy="437.9" r="1.9" fill="#00ffff"/></g><g stroke="#000" stroke-opacity="0.75" stroke-width="0.55"><circle cx="154.8" cy="401.9" r="1.9" fill="#ffff00"/><circle cx="130.0" cy="410.0" r="1.9" fill="#ffff00"/><circle cx="140.6" cy="409.7" r="1.9" fill="#ffff00"/><circle cx="154.6" cy="401.3" r="1.9" fill="#ffff00"/><circle cx="154.9" cy="404.0" r="1.9" fill="#ffff00"/><circle cx="160.6" cy="402.3" r="1.9" fill="#ffff00"/><circle cx="161.5" cy="406.6" r="1.9" fill="#ffff00"/><circle cx="170.3" cy="406.6" r="1.9" fill="#ffff00"/><circle cx="173.3" cy="409.3" r="1.9" fill="#ffff00"/><circle cx="182.6" cy="410.0" r="1.9" fill="#ffff00"/><circle cx="184.6" cy="410.6" r="1.9" fill="#ffff00"/><circle cx="182.6" cy="408.0" r="1.9" fill="#ffff00"/><circle cx="187.0" cy="400.3" r="1.9" fill="#ffff00"/><circle cx="186.3" cy="410.3" r="1.9" fill="#ffff00"/><circle cx="189.7" cy="412.3" r="1.9" fill="#ffff00"/><circle cx="193.0" cy="414.3" r="1.9" fill="#ffff00"/><circle cx="196.3" cy="413.6" r="1.9" fill="#ffff00"/><circle cx="200.3" cy="414.3" r="1.9" fill="#ffff00"/><circle cx="202.3" cy="417.0" r="1.9" fill="#ffff00"/><circle cx="209.6" cy="410.3" r="1.9" fill="#ffff00"/><circle cx="208.3" cy="424.3" r="1.9" fill="#ffff00"/><circle cx="223.6" cy="406.3" r="1.9" fill="#ffff00"/><circle cx="211.7" cy="418.3" r="1.9" fill="#ffff00"/><circle cx="214.6" cy="420.0" r="1.9" fill="#ffff00"/><circle cx="216.7" cy="424.2" r="1.9" fill="#ffff00"/><circle cx="219.6" cy="428.3" r="1.9" fill="#ffff00"/><circle cx="223.7" cy="422.9" r="1.9" fill="#ffff00"/><circle cx="227.1" cy="422.9" r="1.9" fill="#ffff00"/><circle cx="227.9" cy="419.2" r="1.9" fill="#ffff00"/><circle cx="230.4" cy="426.6" r="1.9" fill="#ffff00"/><circle cx="234.5" cy="422.9" r="1.9" fill="#ffff00"/><circle cx="224.6" cy="432.1" r="1.9" fill="#ffff00"/><circle cx="232.5" cy="430.8" r="1.9" fill="#ffff00"/><circle cx="235.0" cy="431.6" r="1.9" fill="#ffff00"/><circle cx="236.6" cy="430.0" r="1.9" fill="#ffff00"/><circle cx="232.0" cy="435.8" r="1.9" fill="#ffff00"/><circle cx="228.7" cy="439.1" r="1.9" fill="#ffff00"/><circle cx="233.7" cy="438.7" r="1.9" fill="#ffff00"/><circle cx="236.2" cy="437.5" r="1.9" fill="#ffff00"/><circle cx="232.9" cy="444.5" r="1.9" fill="#ffff00"/><circle cx="240.4" cy="428.3" r="1.9" fill="#ffff00"/><circle cx="243.3" cy="428.7" r="1.9" fill="#ffff00"/><circle cx="244.1" cy="431.2" r="1.9" fill="#ffff00"/><circle cx="241.6" cy="432.5" r="1.9" fill="#ffff00"/><circle cx="241.2" cy="421.7" r="1.9" fill="#ffff00"/><circle cx="245.8" cy="425.0" r="1.9" fill="#ffff00"/><circle cx="249.5" cy="420.0" r="1.9" fill="#ffff00"/><circle cx="240.8" cy="435.0" r="1.9" fill="#ffff00"/><circle cx="243.3" cy="435.4" r="1.9" fill="#ffff00"/><circle cx="246.6" cy="435.0" r="1.9" fill="#ffff00"/><circle cx="248.3" cy="437.0" r="1.9" fill="#ffff00"/><circle cx="241.6" cy="438.7" r="1.9" fill="#ffff00"/><circle cx="244.9" cy="439.1" r="1.9" fill="#ffff00"/><circle cx="247.4" cy="440.0" r="1.9" fill="#ffff00"/><circle cx="244.1" cy="441.6" r="1.9" fill="#ffff00"/><circle cx="247.4" cy="442.0" r="1.9" fill="#ffff00"/><circle cx="251.6" cy="441.6" r="1.9" fill="#ffff00"/><circle cx="245.8" cy="444.1" r="1.9" fill="#ffff00"/><circle cx="248.3" cy="444.5" r="1.9" fill="#ffff00"/></g><g stroke="#000" stroke-opacity="0.75" stroke-width="0.55"><circle cx="142.0" cy="402.6" r="1.9" fill="#ff0000"/><circle cx="180.6" cy="401.7" r="1.9" fill="#ff0000"/><circle cx="207.4" cy="416.3" r="1.9" fill="#ff0000"/><circle cx="226.6" cy="427.1" r="1.9" fill="#ff0000"/><circle cx="231.2" cy="422.1" r="1.9" fill="#ff0000"/><circle cx="235.4" cy="441.6" r="1.9" fill="#ff0000"/><circle cx="239.1" cy="443.7" r="1.9" fill="#ff0000"/><circle cx="242.4" cy="444.5" r="1.9" fill="#ff0000"/></g><path d="M61.0,321.9 C60.9,321.6 60.5,320.5 60.2,320.4 C59.9,320.3 59.7,320.8 59.3,321.4 C58.9,322.0 58.6,322.7 58.0,324.0 C57.4,325.3 56.2,327.3 55.6,329.0 C55.0,330.7 54.4,332.2 54.4,334.0 C54.4,335.8 54.8,338.2 55.6,340.0 C56.4,341.8 57.6,343.5 59.0,345.0 C60.4,346.5 62.2,347.8 64.0,349.0 C65.8,350.2 67.3,351.0 70.0,352.3 C72.7,353.6 76.7,355.2 80.0,357.0 C83.3,358.8 86.7,361.0 90.0,363.0 C93.3,365.0 96.3,366.9 100.0,369.0 C103.7,371.1 107.9,373.6 111.9,375.9 C115.9,378.2 119.9,380.7 123.9,382.9 C127.9,385.1 131.8,387.1 135.8,388.9 C139.8,390.7 143.8,392.4 147.8,393.9 C151.8,395.4 155.8,396.6 159.8,397.9 C163.8,399.2 167.8,400.3 172.0,401.6 C176.2,402.9 180.6,404.2 185.0,405.6 C189.4,407.1 193.9,408.7 198.3,410.3 C202.7,411.9 207.6,413.5 211.6,415.0 C215.6,416.5 219.3,417.9 222.5,419.2 C225.7,420.5 228.6,421.9 230.8,422.9 C233.0,423.9 234.6,424.5 235.8,425.4 C237.1,426.3 237.8,427.0 238.3,428.3 C238.9,429.6 238.9,430.9 239.1,433.3 C239.3,435.7 239.2,439.5 239.5,442.5 C239.8,445.5 240.4,448.6 241.0,451.2 C241.6,453.8 242.2,456.2 243.0,458.4 C243.8,460.6 244.5,462.4 245.6,464.5 C246.7,466.6 248.1,468.1 249.6,470.7 C251.1,473.3 253.1,477.0 254.8,479.9 C256.5,482.8 258.5,485.4 259.9,488.0 C261.2,490.6 262.0,492.8 262.9,495.2 C263.8,497.6 264.5,500.0 265.0,502.4 C265.5,504.8 265.8,506.7 266.0,509.5 C266.2,512.3 266.0,517.6 266.0,519.2" fill="none" stroke="#000" stroke-width="1.4" stroke-linejoin="round" stroke-linecap="round"/></g><rect x="35.6" y="305.0" width="235.8" height="243.3" fill="none" stroke="#6c6c6c" stroke-width="1.15"/><g font-size="12.3" fill="#000"><text x="36.3" y="565.0" text-anchor="middle" textLength="19.1" lengthAdjust="spacingAndGlyphs">0.0</text><text x="83.5" y="565.0" text-anchor="middle" textLength="19.1" lengthAdjust="spacingAndGlyphs">0.2</text><text x="130.6" y="565.0" text-anchor="middle" textLength="19.1" lengthAdjust="spacingAndGlyphs">0.4</text><text x="177.8" y="565.0" text-anchor="middle" textLength="19.1" lengthAdjust="spacingAndGlyphs">0.6</text><text x="224.9" y="565.0" text-anchor="middle" textLength="19.1" lengthAdjust="spacingAndGlyphs">0.8</text><text x="272.1" y="565.0" text-anchor="middle" textLength="19.1" lengthAdjust="spacingAndGlyphs">1.0</text><text x="30.4" y="308.5" text-anchor="end" textLength="7.6" lengthAdjust="spacingAndGlyphs">6</text><text x="30.4" y="349.1" text-anchor="end" textLength="7.6" lengthAdjust="spacingAndGlyphs">8</text><text x="30.4" y="389.6" text-anchor="end" textLength="15.3" lengthAdjust="spacingAndGlyphs">10</text><text x="30.4" y="430.1" text-anchor="end" textLength="15.3" lengthAdjust="spacingAndGlyphs">12</text><text x="30.4" y="470.7" text-anchor="end" textLength="15.3" lengthAdjust="spacingAndGlyphs">14</text><text x="30.4" y="511.2" text-anchor="end" textLength="15.3" lengthAdjust="spacingAndGlyphs">16</text><text x="30.4" y="551.8" text-anchor="end" textLength="15.3" lengthAdjust="spacingAndGlyphs">18</text></g><text x="153.5" y="579.6" text-anchor="middle" font-size="12.2" textLength="55.6" lengthAdjust="spacingAndGlyphs">J-K [mag]</text><text transform="translate(9.4,426.6) rotate(-90)" x="0" y="0" text-anchor="middle" font-size="12.2" textLength="43.4" lengthAdjust="spacingAndGlyphs">J [mag]</text><g stroke="#9a9a9a" stroke-width="1"><line x1="355.7" y1="548.3" x2="355.7" y2="545.5" /><line x1="355.7" y1="305.0" x2="355.7" y2="307.8" /><line x1="385.2" y1="548.3" x2="385.2" y2="545.5" /><line x1="385.2" y1="305.0" x2="385.2" y2="307.8" /><line x1="414.7" y1="548.3" x2="414.7" y2="545.5" /><line x1="414.7" y1="305.0" x2="414.7" y2="307.8" /><line x1="444.2" y1="548.3" x2="444.2" y2="545.5" /><line x1="444.2" y1="305.0" x2="444.2" y2="307.8" /><line x1="473.8" y1="548.3" x2="473.8" y2="545.5" /><line x1="473.8" y1="305.0" x2="473.8" y2="307.8" /><line x1="503.3" y1="548.3" x2="503.3" y2="545.5" /><line x1="503.3" y1="305.0" x2="503.3" y2="307.8" /><line x1="532.8" y1="548.3" x2="532.8" y2="545.5" /><line x1="532.8" y1="305.0" x2="532.8" y2="307.8" /><line x1="562.3" y1="548.3" x2="562.3" y2="545.5" /><line x1="562.3" y1="305.0" x2="562.3" y2="307.8" /><line x1="591.8" y1="548.3" x2="591.8" y2="545.5" /><line x1="591.8" y1="305.0" x2="591.8" y2="307.8" /><line x1="355.7" y1="305.0" x2="358.5" y2="305.0" /><line x1="591.8" y1="305.0" x2="589.0" y2="305.0" /><line x1="355.7" y1="332.0" x2="358.5" y2="332.0" /><line x1="591.8" y1="332.0" x2="589.0" y2="332.0" /><line x1="355.7" y1="359.1" x2="358.5" y2="359.1" /><line x1="591.8" y1="359.1" x2="589.0" y2="359.1" /><line x1="355.7" y1="386.1" x2="358.5" y2="386.1" /><line x1="591.8" y1="386.1" x2="589.0" y2="386.1" /><line x1="355.7" y1="413.1" x2="358.5" y2="413.1" /><line x1="591.8" y1="413.1" x2="589.0" y2="413.1" /><line x1="355.7" y1="440.2" x2="358.5" y2="440.2" /><line x1="591.8" y1="440.2" x2="589.0" y2="440.2" /><line x1="355.7" y1="467.2" x2="358.5" y2="467.2" /><line x1="591.8" y1="467.2" x2="589.0" y2="467.2" /><line x1="355.7" y1="494.2" x2="358.5" y2="494.2" /><line x1="591.8" y1="494.2" x2="589.0" y2="494.2" /><line x1="355.7" y1="521.3" x2="358.5" y2="521.3" /><line x1="591.8" y1="521.3" x2="589.0" y2="521.3" /><line x1="355.7" y1="548.3" x2="358.5" y2="548.3" /><line x1="591.8" y1="548.3" x2="589.0" y2="548.3" /></g><g clip-path="url(#clip4)"><g stroke="#000" stroke-opacity="0.75" stroke-width="0.55"><circle cx="408.0" cy="390.4" r="1.9" fill="#00ffff"/><circle cx="413.3" cy="392.0" r="1.9" fill="#00ffff"/><circle cx="410.0" cy="395.3" r="1.9" fill="#00ffff"/><circle cx="434.9" cy="399.0" r="1.9" fill="#00ffff"/><circle cx="443.9" cy="408.4" r="1.9" fill="#00ffff"/><circle cx="438.6" cy="411.3" r="1.9" fill="#00ffff"/><circle cx="443.3" cy="415.3" r="1.9" fill="#00ffff"/><circle cx="451.3" cy="412.6" r="1.9" fill="#00ffff"/><circle cx="462.0" cy="412.0" r="1.9" fill="#00ffff"/><circle cx="466.5" cy="418.0" r="1.9" fill="#00ffff"/><circle cx="471.0" cy="421.7" r="1.9" fill="#00ffff"/><circle cx="472.5" cy="425.5" r="1.9" fill="#00ffff"/><circle cx="461.2" cy="426.2" r="1.9" fill="#00ffff"/><circle cx="464.2" cy="424.0" r="1.9" fill="#00ffff"/><circle cx="477.0" cy="436.7" r="1.9" fill="#00ffff"/><circle cx="479.9" cy="437.4" r="1.9" fill="#00ffff"/><circle cx="486.7" cy="444.2" r="1.9" fill="#00ffff"/><circle cx="487.4" cy="429.2" r="1.9" fill="#00ffff"/><circle cx="490.4" cy="432.2" r="1.9" fill="#00ffff"/><circle cx="489.7" cy="435.9" r="1.9" fill="#00ffff"/><circle cx="488.2" cy="438.2" r="1.9" fill="#00ffff"/><circle cx="494.9" cy="435.2" r="1.9" fill="#00ffff"/><circle cx="493.4" cy="438.9" r="1.9" fill="#00ffff"/><circle cx="496.4" cy="441.2" r="1.9" fill="#00ffff"/><circle cx="497.2" cy="444.9" r="1.9" fill="#00ffff"/><circle cx="503.2" cy="428.5" r="1.9" fill="#00ffff"/><circle cx="517.4" cy="449.7" r="1.9" fill="#00ffff"/><circle cx="522.9" cy="449.4" r="1.9" fill="#00ffff"/><circle cx="530.6" cy="444.2" r="1.9" fill="#00ffff"/></g><g stroke="#000" stroke-opacity="0.75" stroke-width="0.55"><circle cx="411.3" cy="390.4" r="1.9" fill="#ffff00"/><circle cx="411.3" cy="393.3" r="1.9" fill="#ffff00"/><circle cx="414.0" cy="396.0" r="1.9" fill="#ffff00"/><circle cx="418.0" cy="398.6" r="1.9" fill="#ffff00"/><circle cx="420.6" cy="400.6" r="1.9" fill="#ffff00"/><circle cx="435.3" cy="406.0" r="1.9" fill="#ffff00"/><circle cx="427.3" cy="408.6" r="1.9" fill="#ffff00"/><circle cx="439.9" cy="414.0" r="1.9" fill="#ffff00"/><circle cx="443.9" cy="412.0" r="1.9" fill="#ffff00"/><circle cx="449.9" cy="414.0" r="1.9" fill="#ffff00"/><circle cx="450.6" cy="416.6" r="1.9" fill="#ffff00"/><circle cx="445.3" cy="416.6" r="1.9" fill="#ffff00"/><circle cx="447.9" cy="417.9" r="1.9" fill="#ffff00"/><circle cx="453.0" cy="410.8" r="1.9" fill="#ffff00"/><circle cx="456.0" cy="413.5" r="1.9" fill="#ffff00"/><circle cx="451.5" cy="415.7" r="1.9" fill="#ffff00"/><circle cx="457.5" cy="419.5" r="1.9" fill="#ffff00"/><circle cx="460.5" cy="421.0" r="1.9" fill="#ffff00"/><circle cx="465.7" cy="422.8" r="1.9" fill="#ffff00"/><circle cx="456.0" cy="421.7" r="1.9" fill="#ffff00"/><circle cx="468.7" cy="429.2" r="1.9" fill="#ffff00"/><circle cx="470.2" cy="432.2" r="1.9" fill="#ffff00"/><circle cx="472.5" cy="429.9" r="1.9" fill="#ffff00"/><circle cx="474.7" cy="432.2" r="1.9" fill="#ffff00"/><circle cx="477.7" cy="426.7" r="1.9" fill="#ffff00"/><circle cx="482.2" cy="426.2" r="1.9" fill="#ffff00"/><circle cx="484.4" cy="429.2" r="1.9" fill="#ffff00"/><circle cx="480.7" cy="432.2" r="1.9" fill="#ffff00"/><circle cx="482.9" cy="432.2" r="1.9" fill="#ffff00"/><circle cx="482.9" cy="435.9" r="1.9" fill="#ffff00"/><circle cx="481.4" cy="438.9" r="1.9" fill="#ffff00"/><circle cx="485.2" cy="440.1" r="1.9" fill="#ffff00"/><circle cx="488.2" cy="441.2" r="1.9" fill="#ffff00"/><circle cx="509.9" cy="439.7" r="1.9" fill="#ffff00"/><circle cx="507.7" cy="443.4" r="1.9" fill="#ffff00"/><circle cx="505.4" cy="446.4" r="1.9" fill="#ffff00"/><circle cx="506.9" cy="450.2" r="1.9" fill="#ffff00"/><circle cx="511.4" cy="451.7" r="1.9" fill="#ffff00"/><circle cx="513.6" cy="449.4" r="1.9" fill="#ffff00"/></g><g stroke="#000" stroke-opacity="0.75" stroke-width="0.55"><circle cx="427.3" cy="399.0" r="1.9" fill="#ff0000"/><circle cx="459.0" cy="411.2" r="1.9" fill="#ff0000"/><circle cx="472.8" cy="422.2" r="1.9" fill="#ff0000"/></g><path d="M375.7,322.6 C375.5,322.5 374.6,322.0 374.4,322.2 C374.2,322.4 374.9,322.9 374.6,324.0 C374.3,325.1 372.8,326.7 372.6,328.6 C372.4,330.5 372.5,333.1 373.3,335.3 C374.1,337.5 375.8,339.8 377.3,342.0 C378.9,344.2 380.8,346.4 382.6,348.6 C384.4,350.8 386.4,353.1 388.0,355.3 C389.6,357.5 390.4,359.5 392.0,361.9 C393.6,364.3 395.3,367.0 397.3,369.9 C399.3,372.8 402.0,376.5 404.0,379.2 C406.0,381.9 407.8,384.2 409.3,385.9 C410.9,387.6 411.3,387.7 413.3,389.6 C415.3,391.5 418.6,394.7 421.3,397.3 C424.0,399.9 426.4,402.9 429.3,405.3 C432.2,407.8 435.7,410.1 438.6,412.0 C441.5,413.9 443.9,414.8 446.6,416.6 C449.3,418.4 452.7,421.1 454.6,422.6 C456.6,424.1 456.9,424.0 458.3,425.5 C459.7,427.0 461.4,429.6 463.0,431.7 C464.6,433.8 466.4,436.7 467.6,438.3 C468.8,439.9 469.0,440.2 470.0,441.5 C471.0,442.8 472.1,444.4 473.6,446.3 C475.1,448.2 477.0,450.8 479.0,453.0 C481.0,455.2 483.4,457.4 485.6,459.6 C487.8,461.8 489.9,463.9 492.3,466.3 C494.8,468.8 497.6,471.9 500.3,474.3 C503.0,476.7 505.4,478.5 508.3,480.9 C511.2,483.3 514.5,486.4 517.6,488.9 C520.7,491.3 524.0,493.7 526.9,495.6 C529.8,497.6 531.1,498.2 534.9,500.6 C538.7,503.0 545.1,507.0 549.9,509.9 C554.7,512.8 559.6,515.4 563.9,517.9 C568.2,520.4 573.8,523.7 575.8,524.9" fill="none" stroke="#000" stroke-width="1.4" stroke-linejoin="round" stroke-linecap="round"/></g><rect x="355.7" y="305.0" width="236.1" height="243.3" fill="none" stroke="#6c6c6c" stroke-width="1.15"/><g font-size="12.3" fill="#000"><text x="356.4" y="565.0" text-anchor="middle" textLength="19.1" lengthAdjust="spacingAndGlyphs">0.0</text><text x="385.9" y="565.0" text-anchor="middle" textLength="19.1" lengthAdjust="spacingAndGlyphs">0.5</text><text x="415.4" y="565.0" text-anchor="middle" textLength="19.1" lengthAdjust="spacingAndGlyphs">1.0</text><text x="444.9" y="565.0" text-anchor="middle" textLength="19.1" lengthAdjust="spacingAndGlyphs">1.5</text><text x="474.4" y="565.0" text-anchor="middle" textLength="19.1" lengthAdjust="spacingAndGlyphs">2.0</text><text x="504.0" y="565.0" text-anchor="middle" textLength="19.1" lengthAdjust="spacingAndGlyphs">2.5</text><text x="533.5" y="565.0" text-anchor="middle" textLength="19.1" lengthAdjust="spacingAndGlyphs">3.0</text><text x="563.0" y="565.0" text-anchor="middle" textLength="19.1" lengthAdjust="spacingAndGlyphs">3.5</text><text x="592.5" y="565.0" text-anchor="middle" textLength="19.1" lengthAdjust="spacingAndGlyphs">4.0</text><text x="350.5" y="308.5" text-anchor="end" textLength="7.6" lengthAdjust="spacingAndGlyphs">6</text><text x="350.5" y="335.5" text-anchor="end" textLength="7.6" lengthAdjust="spacingAndGlyphs">8</text><text x="350.5" y="362.6" text-anchor="end" textLength="15.3" lengthAdjust="spacingAndGlyphs">10</text><text x="350.5" y="389.6" text-anchor="end" textLength="15.3" lengthAdjust="spacingAndGlyphs">12</text><text x="350.5" y="416.6" text-anchor="end" textLength="15.3" lengthAdjust="spacingAndGlyphs">14</text><text x="350.5" y="443.7" text-anchor="end" textLength="15.3" lengthAdjust="spacingAndGlyphs">16</text><text x="350.5" y="470.7" text-anchor="end" textLength="15.3" lengthAdjust="spacingAndGlyphs">18</text><text x="350.5" y="497.7" text-anchor="end" textLength="15.3" lengthAdjust="spacingAndGlyphs">20</text><text x="350.5" y="524.8" text-anchor="end" textLength="15.3" lengthAdjust="spacingAndGlyphs">22</text><text x="350.5" y="551.8" text-anchor="end" textLength="15.3" lengthAdjust="spacingAndGlyphs">24</text></g><text x="473.8" y="579.6" text-anchor="middle" font-size="12.2" textLength="55.9" lengthAdjust="spacingAndGlyphs">V-I [mag]</text><text transform="translate(329.5,426.6) rotate(-90)" x="0" y="0" text-anchor="middle" font-size="12.2" textLength="48.0" lengthAdjust="spacingAndGlyphs">V [mag]</text><g stroke="#9a9a9a" stroke-width="1"><line x1="35.6" y1="847.3" x2="35.6" y2="844.5" /><line x1="35.6" y1="603.6" x2="35.6" y2="606.4" /><line x1="69.3" y1="847.3" x2="69.3" y2="844.5" /><line x1="69.3" y1="603.6" x2="69.3" y2="606.4" /><line x1="103.0" y1="847.3" x2="103.0" y2="844.5" /><line x1="103.0" y1="603.6" x2="103.0" y2="606.4" /><line x1="136.7" y1="847.3" x2="136.7" y2="844.5" /><line x1="136.7" y1="603.6" x2="136.7" y2="606.4" /><line x1="170.3" y1="847.3" x2="170.3" y2="844.5" /><line x1="170.3" y1="603.6" x2="170.3" y2="606.4" /><line x1="204.0" y1="847.3" x2="204.0" y2="844.5" /><line x1="204.0" y1="603.6" x2="204.0" y2="606.4" /><line x1="237.7" y1="847.3" x2="237.7" y2="844.5" /><line x1="237.7" y1="603.6" x2="237.7" y2="606.4" /><line x1="271.4" y1="847.3" x2="271.4" y2="844.5" /><line x1="271.4" y1="603.6" x2="271.4" y2="606.4" /><line x1="35.6" y1="603.6" x2="38.4" y2="603.6" /><line x1="271.4" y1="603.6" x2="268.59999999999997" y2="603.6" /><line x1="35.6" y1="638.4" x2="38.4" y2="638.4" /><line x1="271.4" y1="638.4" x2="268.59999999999997" y2="638.4" /><line x1="35.6" y1="673.2" x2="38.4" y2="673.2" /><line x1="271.4" y1="673.2" x2="268.59999999999997" y2="673.2" /><line x1="35.6" y1="708.0" x2="38.4" y2="708.0" /><line x1="271.4" y1="708.0" x2="268.59999999999997" y2="708.0" /><line x1="35.6" y1="742.9" x2="38.4" y2="742.9" /><line x1="271.4" y1="742.9" x2="268.59999999999997" y2="742.9" /><line x1="35.6" y1="777.7" x2="38.4" y2="777.7" /><line x1="271.4" y1="777.7" x2="268.59999999999997" y2="777.7" /><line x1="35.6" y1="812.5" x2="38.4" y2="812.5" /><line x1="271.4" y1="812.5" x2="268.59999999999997" y2="812.5" /><line x1="35.6" y1="847.3" x2="38.4" y2="847.3" /><line x1="271.4" y1="847.3" x2="268.59999999999997" y2="847.3" /></g><g clip-path="url(#clip5)"><g stroke="#000" stroke-opacity="0.75" stroke-width="0.55"><circle cx="135.9" cy="692.4" r="1.9" fill="#00ffff"/><circle cx="131.3" cy="699.6" r="1.9" fill="#00ffff"/><circle cx="142.2" cy="699.1" r="1.9" fill="#00ffff"/><circle cx="161.9" cy="693.3" r="1.9" fill="#00ffff"/><circle cx="150.2" cy="717.3" r="1.9" fill="#00ffff"/><circle cx="155.2" cy="720.0" r="1.9" fill="#00ffff"/><circle cx="166.2" cy="717.7" r="1.9" fill="#00ffff"/><circle cx="162.6" cy="725.7" r="1.9" fill="#00ffff"/><circle cx="155.9" cy="728.6" r="1.9" fill="#00ffff"/><circle cx="150.6" cy="733.3" r="1.9" fill="#00ffff"/><circle cx="142.6" cy="729.9" r="1.9" fill="#00ffff"/><circle cx="141.3" cy="736.3" r="1.9" fill="#00ffff"/><circle cx="133.3" cy="741.9" r="1.9" fill="#00ffff"/><circle cx="129.9" cy="744.6" r="1.9" fill="#00ffff"/><circle cx="118.0" cy="746.6" r="1.9" fill="#00ffff"/><circle cx="160.6" cy="744.6" r="1.9" fill="#00ffff"/><circle cx="118.0" cy="746.4" r="1.9" fill="#00ffff"/><circle cx="129.9" cy="744.7" r="1.9" fill="#00ffff"/><circle cx="133.3" cy="742.0" r="1.9" fill="#00ffff"/><circle cx="161.2" cy="744.4" r="1.9" fill="#00ffff"/><circle cx="136.6" cy="750.7" r="1.9" fill="#00ffff"/><circle cx="139.3" cy="755.3" r="1.9" fill="#00ffff"/><circle cx="141.9" cy="756.0" r="1.9" fill="#00ffff"/><circle cx="150.6" cy="756.0" r="1.9" fill="#00ffff"/><circle cx="153.2" cy="757.3" r="1.9" fill="#00ffff"/><circle cx="155.9" cy="757.0" r="1.9" fill="#00ffff"/><circle cx="133.3" cy="763.3" r="1.9" fill="#00ffff"/><circle cx="129.9" cy="764.0" r="1.9" fill="#00ffff"/><circle cx="140.6" cy="768.6" r="1.9" fill="#00ffff"/><circle cx="147.3" cy="770.6" r="1.9" fill="#00ffff"/><circle cx="151.9" cy="768.6" r="1.9" fill="#00ffff"/><circle cx="155.2" cy="768.6" r="1.9" fill="#00ffff"/><circle cx="165.9" cy="767.3" r="1.9" fill="#00ffff"/><circle cx="141.9" cy="774.6" r="1.9" fill="#00ffff"/><circle cx="143.9" cy="779.3" r="1.9" fill="#00ffff"/><circle cx="140.6" cy="782.6" r="1.9" fill="#00ffff"/><circle cx="148.6" cy="776.6" r="1.9" fill="#00ffff"/><circle cx="151.3" cy="777.9" r="1.9" fill="#00ffff"/><circle cx="163.9" cy="776.0" r="1.9" fill="#00ffff"/><circle cx="164.6" cy="777.9" r="1.9" fill="#00ffff"/><circle cx="147.9" cy="785.9" r="1.9" fill="#00ffff"/><circle cx="162.6" cy="782.6" r="1.9" fill="#00ffff"/><circle cx="135.3" cy="778.6" r="1.9" fill="#00ffff"/><circle cx="118.6" cy="774.0" r="1.9" fill="#00ffff"/><circle cx="99.3" cy="774.6" r="1.9" fill="#00ffff"/><circle cx="132.6" cy="789.9" r="1.9" fill="#00ffff"/><circle cx="136.6" cy="789.3" r="1.9" fill="#00ffff"/><circle cx="114.6" cy="801.7" r="1.9" fill="#00ffff"/><circle cx="129.5" cy="804.9" r="1.9" fill="#00ffff"/><circle cx="211.6" cy="723.5" r="1.9" fill="#00ffff"/><circle cx="239.7" cy="734.7" r="1.9" fill="#00ffff"/><circle cx="194.0" cy="739.0" r="1.9" fill="#00ffff"/><circle cx="177.3" cy="773.2" r="1.9" fill="#00ffff"/><circle cx="188.0" cy="770.0" r="1.9" fill="#00ffff"/><circle cx="205.6" cy="766.6" r="1.9" fill="#00ffff"/><circle cx="182.0" cy="781.9" r="1.9" fill="#00ffff"/><circle cx="179.3" cy="788.8" r="1.9" fill="#00ffff"/><circle cx="179.3" cy="794.4" r="1.9" fill="#00ffff"/><circle cx="251.3" cy="765.7" r="1.9" fill="#00ffff"/><circle cx="169.0" cy="776.6" r="1.9" fill="#00ffff"/></g><g stroke="#000" stroke-opacity="0.75" stroke-width="0.55"><circle cx="79.3" cy="665.7" r="1.9" fill="#ffff00"/><circle cx="110.9" cy="656.9" r="1.9" fill="#ffff00"/><circle cx="139.9" cy="656.8" r="1.9" fill="#ffff00"/><circle cx="180.7" cy="680.0" r="1.9" fill="#ffff00"/><circle cx="133.7" cy="696.0" r="1.9" fill="#ffff00"/><circle cx="129.9" cy="726.6" r="1.9" fill="#ffff00"/><circle cx="156.6" cy="725.3" r="1.9" fill="#ffff00"/><circle cx="151.3" cy="729.9" r="1.9" fill="#ffff00"/><circle cx="124.9" cy="740.3" r="1.9" fill="#ffff00"/><circle cx="111.0" cy="743.9" r="1.9" fill="#ffff00"/><circle cx="135.9" cy="747.3" r="1.9" fill="#ffff00"/><circle cx="110.6" cy="744.3" r="1.9" fill="#ffff00"/><circle cx="124.6" cy="740.7" r="1.9" fill="#ffff00"/><circle cx="113.7" cy="750.4" r="1.9" fill="#ffff00"/><circle cx="118.6" cy="754.0" r="1.9" fill="#ffff00"/><circle cx="117.3" cy="756.0" r="1.9" fill="#ffff00"/><circle cx="122.0" cy="751.3" r="1.9" fill="#ffff00"/><circle cx="126.6" cy="750.0" r="1.9" fill="#ffff00"/><circle cx="135.9" cy="746.7" r="1.9" fill="#ffff00"/><circle cx="131.9" cy="754.6" r="1.9" fill="#ffff00"/><circle cx="131.3" cy="758.0" r="1.9" fill="#ffff00"/><circle cx="143.3" cy="753.3" r="1.9" fill="#ffff00"/><circle cx="149.9" cy="759.3" r="1.9" fill="#ffff00"/><circle cx="155.9" cy="761.3" r="1.9" fill="#ffff00"/><circle cx="146.6" cy="764.0" r="1.9" fill="#ffff00"/><circle cx="134.6" cy="767.3" r="1.9" fill="#ffff00"/><circle cx="129.3" cy="766.0" r="1.9" fill="#ffff00"/><circle cx="126.0" cy="763.3" r="1.9" fill="#ffff00"/><circle cx="120.6" cy="768.6" r="1.9" fill="#ffff00"/><circle cx="113.3" cy="769.3" r="1.9" fill="#ffff00"/><circle cx="94.7" cy="771.3" r="1.9" fill="#ffff00"/><circle cx="123.3" cy="772.6" r="1.9" fill="#ffff00"/><circle cx="126.0" cy="770.6" r="1.9" fill="#ffff00"/><circle cx="128.6" cy="774.0" r="1.9" fill="#ffff00"/><circle cx="122.6" cy="776.0" r="1.9" fill="#ffff00"/><circle cx="124.6" cy="778.6" r="1.9" fill="#ffff00"/><circle cx="129.9" cy="777.9" r="1.9" fill="#ffff00"/><circle cx="122.0" cy="779.9" r="1.9" fill="#ffff00"/><circle cx="126.6" cy="781.9" r="1.9" fill="#ffff00"/><circle cx="129.9" cy="782.6" r="1.9" fill="#ffff00"/><circle cx="132.6" cy="781.3" r="1.9" fill="#ffff00"/><circle cx="121.3" cy="783.9" r="1.9" fill="#ffff00"/><circle cx="124.6" cy="785.3" r="1.9" fill="#ffff00"/><circle cx="128.6" cy="783.9" r="1.9" fill="#ffff00"/><circle cx="117.3" cy="785.9" r="1.9" fill="#ffff00"/><circle cx="125.3" cy="789.3" r="1.9" fill="#ffff00"/><circle cx="131.3" cy="785.3" r="1.9" fill="#ffff00"/><circle cx="126.0" cy="792.6" r="1.9" fill="#ffff00"/><circle cx="128.6" cy="795.3" r="1.9" fill="#ffff00"/><circle cx="125.3" cy="797.9" r="1.9" fill="#ffff00"/><circle cx="129.9" cy="798.6" r="1.9" fill="#ffff00"/><circle cx="143.3" cy="770.6" r="1.9" fill="#ffff00"/><circle cx="155.9" cy="772.0" r="1.9" fill="#ffff00"/><circle cx="152.6" cy="775.3" r="1.9" fill="#ffff00"/><circle cx="159.2" cy="774.9" r="1.9" fill="#ffff00"/><circle cx="157.2" cy="781.3" r="1.9" fill="#ffff00"/><circle cx="135.3" cy="774.0" r="1.9" fill="#ffff00"/><circle cx="125.3" cy="798.0" r="1.9" fill="#ffff00"/><circle cx="131.0" cy="799.3" r="1.9" fill="#ffff00"/><circle cx="126.0" cy="800.9" r="1.9" fill="#ffff00"/><circle cx="121.7" cy="802.6" r="1.9" fill="#ffff00"/><circle cx="198.0" cy="739.7" r="1.9" fill="#ffff00"/><circle cx="190.0" cy="753.0" r="1.9" fill="#ffff00"/><circle cx="179.7" cy="768.6" r="1.9" fill="#ffff00"/></g><g stroke="#000" stroke-opacity="0.75" stroke-width="0.55"><circle cx="125.7" cy="720.0" r="1.9" fill="#ff0000"/><circle cx="115.0" cy="743.3" r="1.9" fill="#ff0000"/><circle cx="151.5" cy="743.5" r="1.9" fill="#ff0000"/><circle cx="115.0" cy="743.3" r="1.9" fill="#ff0000"/><circle cx="151.9" cy="743.7" r="1.9" fill="#ff0000"/><circle cx="132.3" cy="750.4" r="1.9" fill="#ff0000"/><circle cx="140.3" cy="750.4" r="1.9" fill="#ff0000"/><circle cx="147.3" cy="751.3" r="1.9" fill="#ff0000"/><circle cx="135.9" cy="752.9" r="1.9" fill="#ff0000"/><circle cx="123.3" cy="754.6" r="1.9" fill="#ff0000"/><circle cx="124.0" cy="760.6" r="1.9" fill="#ff0000"/><circle cx="128.6" cy="764.0" r="1.9" fill="#ff0000"/><circle cx="143.9" cy="760.6" r="1.9" fill="#ff0000"/><circle cx="125.3" cy="770.0" r="1.9" fill="#ff0000"/><circle cx="130.6" cy="772.0" r="1.9" fill="#ff0000"/><circle cx="133.9" cy="771.3" r="1.9" fill="#ff0000"/><circle cx="132.6" cy="776.6" r="1.9" fill="#ff0000"/><circle cx="145.3" cy="776.0" r="1.9" fill="#ff0000"/><circle cx="123.0" cy="785.9" r="1.9" fill="#ff0000"/><circle cx="128.9" cy="787.3" r="1.9" fill="#ff0000"/><circle cx="159.0" cy="794.3" r="1.9" fill="#ff0000"/><circle cx="171.7" cy="726.4" r="1.9" fill="#ff0000"/><circle cx="175.3" cy="769.2" r="1.9" fill="#ff0000"/><circle cx="189.3" cy="769.2" r="1.9" fill="#ff0000"/></g><path d="M69.3,635.6 L71.3,652.6 L73.3,672.6 L74.4,683.9 L75.7,683.3 L77.0,685.3 L76.6,677.9" fill="none" stroke="#000" stroke-width="1.4" stroke-linejoin="round" stroke-linecap="round"/><path d="M76.6,677.9 C76.7,676.8 76.7,673.4 77.3,671.3 C77.9,669.2 78.8,666.8 80.0,665.3 C81.2,663.8 83.0,662.7 84.6,662.4 C86.2,662.1 87.9,662.8 89.5,663.3 C91.1,663.8 92.7,664.8 94.1,665.7 C95.5,666.7 96.9,667.7 98.0,669.0 C99.1,670.3 100.0,671.9 100.9,673.6 C101.8,675.3 102.7,677.1 103.5,679.0 C104.3,680.9 104.6,681.9 105.5,685.0 C106.4,688.1 107.8,693.3 108.9,697.5 C110.0,701.7 111.0,705.3 112.3,710.0 C113.6,714.7 115.3,720.9 116.8,725.9 C118.2,730.9 119.4,735.1 121.0,740.0 C122.6,744.9 124.8,750.6 126.5,755.0 C128.2,759.4 129.6,762.4 131.3,766.6 C133.0,770.8 134.9,775.8 136.6,780.0 C138.3,784.2 140.0,788.2 141.3,791.9 C142.6,795.6 143.4,798.3 144.6,802.0 C145.8,805.7 147.6,809.8 148.6,814.0 C149.6,818.2 150.2,821.6 150.6,827.3 C151.0,833.0 150.8,844.5 150.8,848.0" fill="none" stroke="#000" stroke-width="1.4" stroke-linejoin="round" stroke-linecap="round"/></g><rect x="35.6" y="603.6" width="235.8" height="243.7" fill="none" stroke="#6c6c6c" stroke-width="1.15"/><g font-size="12.3" fill="#000"><text x="41.9" y="864.0" text-anchor="middle" textLength="19.1" lengthAdjust="spacingAndGlyphs">0.5</text><rect x="23.8" y="854.7" width="7.3" height="1.1" fill="#000"/><text x="70.0" y="864.0" text-anchor="middle" textLength="19.1" lengthAdjust="spacingAndGlyphs">0.0</text><text x="103.7" y="864.0" text-anchor="middle" textLength="19.1" lengthAdjust="spacingAndGlyphs">0.5</text><text x="137.4" y="864.0" text-anchor="middle" textLength="19.1" lengthAdjust="spacingAndGlyphs">1.0</text><text x="171.0" y="864.0" text-anchor="middle" textLength="19.1" lengthAdjust="spacingAndGlyphs">1.5</text><text x="204.7" y="864.0" text-anchor="middle" textLength="19.1" lengthAdjust="spacingAndGlyphs">2.0</text><text x="238.4" y="864.0" text-anchor="middle" textLength="19.1" lengthAdjust="spacingAndGlyphs">2.5</text><text x="272.1" y="864.0" text-anchor="middle" textLength="19.1" lengthAdjust="spacingAndGlyphs">3.0</text><text x="30.4" y="607.1" text-anchor="end" textLength="7.6" lengthAdjust="spacingAndGlyphs">8</text><text x="30.4" y="641.9" text-anchor="end" textLength="7.6" lengthAdjust="spacingAndGlyphs">9</text><text x="30.4" y="676.7" text-anchor="end" textLength="15.3" lengthAdjust="spacingAndGlyphs">10</text><text x="30.4" y="711.5" text-anchor="end" textLength="15.3" lengthAdjust="spacingAndGlyphs">11</text><text x="30.4" y="746.4" text-anchor="end" textLength="15.3" lengthAdjust="spacingAndGlyphs">12</text><text x="30.4" y="781.2" text-anchor="end" textLength="15.3" lengthAdjust="spacingAndGlyphs">13</text><text x="30.4" y="816.0" text-anchor="end" textLength="15.3" lengthAdjust="spacingAndGlyphs">14</text><text x="30.4" y="850.8" text-anchor="end" textLength="15.3" lengthAdjust="spacingAndGlyphs">15</text></g><text x="153.5" y="878.6" text-anchor="middle" font-size="12.2" textLength="55.6" lengthAdjust="spacingAndGlyphs">J-K [mag]</text><text transform="translate(9.4,725.5) rotate(-90)" x="0" y="0" text-anchor="middle" font-size="12.2" textLength="43.4" lengthAdjust="spacingAndGlyphs">J [mag]</text><rect x="125.6" y="10.3" width="141.2" height="59.7" fill="#fff" stroke="#555" stroke-width="1"/><circle cx="139.1" cy="18.3" r="1.9" fill="#00ffff" stroke="#000" stroke-width="0.4"/><text x="156.2" y="21.8" font-size="10.3" textLength="84.6" lengthAdjust="spacingAndGlyphs">Unobserved stars</text><circle cx="139.1" cy="32.5" r="1.9" fill="#ffff00" stroke="#000" stroke-width="0.4"/><text x="156.2" y="36.0" font-size="10.3" textLength="104.6" lengthAdjust="spacingAndGlyphs">Observed single stars</text><circle cx="139.1" cy="46.7" r="1.9" fill="#ff0000" stroke="#000" stroke-width="0.4"/><text x="156.2" y="50.2" font-size="10.3" textLength="87.6" lengthAdjust="spacingAndGlyphs">Observed binaries</text><line x1="129.0" y1="60.9" x2="149.0" y2="60.9" stroke="#222" stroke-width="1.6"/><text x="156.2" y="64.4" font-size="10.3" textLength="106.2" lengthAdjust="spacingAndGlyphs">Log age 8.1 isochrone</text><rect x="445.9" y="10.7" width="141.0" height="59.3" fill="#fff" stroke="#555" stroke-width="1"/><circle cx="459.4" cy="18.7" r="1.9" fill="#00ffff" stroke="#000" stroke-width="0.4"/><text x="476.5" y="22.2" font-size="10.3" textLength="84.6" lengthAdjust="spacingAndGlyphs">Unobserved stars</text><circle cx="459.4" cy="32.9" r="1.9" fill="#ffff00" stroke="#000" stroke-width="0.4"/><text x="476.5" y="36.4" font-size="10.3" textLength="104.6" lengthAdjust="spacingAndGlyphs">Observed single stars</text><circle cx="459.4" cy="47.1" r="1.9" fill="#ff0000" stroke="#000" stroke-width="0.4"/><text x="476.5" y="50.6" font-size="10.3" textLength="87.6" lengthAdjust="spacingAndGlyphs">Observed binaries</text><line x1="449.3" y1="61.3" x2="469.3" y2="61.3" stroke="#222" stroke-width="1.6"/><text x="476.5" y="64.8" font-size="10.3" textLength="106.2" lengthAdjust="spacingAndGlyphs">Log age 8.1 isochrone</text><rect x="125.6" y="309.9" width="141.2" height="59.0" fill="#fff" stroke="#555" stroke-width="1"/><circle cx="139.1" cy="317.9" r="1.9" fill="#00ffff" stroke="#000" stroke-width="0.4"/><text x="156.2" y="321.4" font-size="10.3" textLength="84.6" lengthAdjust="spacingAndGlyphs">Unobserved stars</text><circle cx="139.1" cy="332.1" r="1.9" fill="#ffff00" stroke="#000" stroke-width="0.4"/><text x="156.2" y="335.6" font-size="10.3" textLength="104.6" lengthAdjust="spacingAndGlyphs">Observed single stars</text><circle cx="139.1" cy="346.3" r="1.9" fill="#ff0000" stroke="#000" stroke-width="0.4"/><text x="156.2" y="349.8" font-size="10.3" textLength="87.6" lengthAdjust="spacingAndGlyphs">Observed binaries</text><line x1="129.0" y1="360.5" x2="149.0" y2="360.5" stroke="#222" stroke-width="1.6"/><text x="156.2" y="364.0" font-size="10.3" textLength="106.2" lengthAdjust="spacingAndGlyphs">Log age 8.1 isochrone</text><rect x="445.9" y="309.9" width="141.0" height="59.0" fill="#fff" stroke="#555" stroke-width="1"/><circle cx="459.4" cy="317.9" r="1.9" fill="#00ffff" stroke="#000" stroke-width="0.4"/><text x="476.5" y="321.4" font-size="10.3" textLength="84.6" lengthAdjust="spacingAndGlyphs">Unobserved stars</text><circle cx="459.4" cy="332.1" r="1.9" fill="#ffff00" stroke="#000" stroke-width="0.4"/><text x="476.5" y="335.6" font-size="10.3" textLength="104.6" lengthAdjust="spacingAndGlyphs">Observed single stars</text><circle cx="459.4" cy="346.3" r="1.9" fill="#ff0000" stroke="#000" stroke-width="0.4"/><text x="476.5" y="349.8" font-size="10.3" textLength="87.6" lengthAdjust="spacingAndGlyphs">Observed binaries</text><line x1="449.3" y1="360.5" x2="469.3" y2="360.5" stroke="#222" stroke-width="1.6"/><text x="476.5" y="364.0" font-size="10.3" textLength="106.2" lengthAdjust="spacingAndGlyphs">Log age 8.1 isochrone</text><rect x="127.5" y="608.5" width="139.5" height="45.5" fill="#fff" stroke="#555" stroke-width="1"/><circle cx="141.0" cy="616.5" r="1.9" fill="#00ffff" stroke="#000" stroke-width="0.4"/><text x="158.1" y="620.0" font-size="10.3" textLength="84.6" lengthAdjust="spacingAndGlyphs">Unobserved stars</text><circle cx="141.0" cy="630.7" r="1.9" fill="#ffff00" stroke="#000" stroke-width="0.4"/><text x="158.1" y="634.2" font-size="10.3" textLength="104.6" lengthAdjust="spacingAndGlyphs">Observed single stars</text><circle cx="141.0" cy="644.9" r="1.9" fill="#ff0000" stroke="#000" stroke-width="0.4"/><text x="158.1" y="648.4" font-size="10.3" textLength="87.6" lengthAdjust="spacingAndGlyphs">Observed binaries</text></svg></body></html>
